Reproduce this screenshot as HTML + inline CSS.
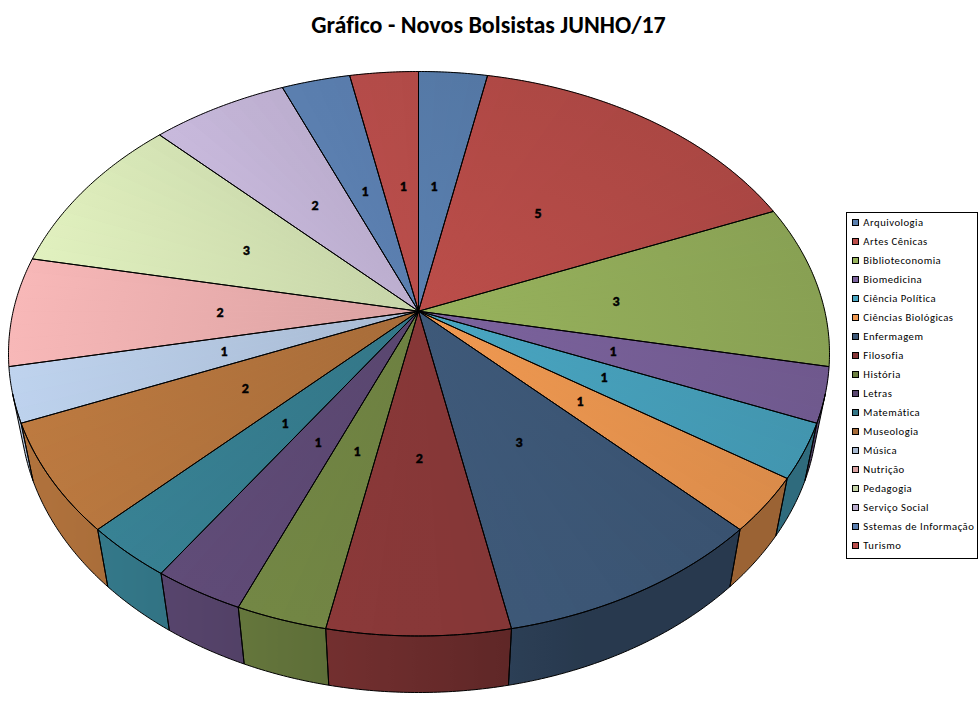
<!DOCTYPE html>
<html><head><meta charset="utf-8"><style>
html,body{margin:0;padding:0;background:#fff;}
body{width:980px;height:715px;position:relative;overflow:hidden;font-family:Carlito,"Liberation Sans",sans-serif;font-variant-ligatures:none;}
.title{position:absolute;left:-1.5px;width:980px;top:9.5px;text-align:center;font-weight:bold;font-size:24px;line-height:29px;color:#000;white-space:nowrap;}
.title span{display:inline-block;}
.pie{position:absolute;left:0;top:0;}
.lab text{font-family:Carlito,"Liberation Sans",sans-serif;font-weight:bold;font-size:14px;fill:#000;stroke:#000;stroke-width:0.45px;}
.leg{position:absolute;left:846px;top:212px;width:130px;height:345px;border:1px solid #000;background:#fff;}
.li{position:absolute;left:5px;height:12px;}
.li i{position:absolute;left:0;top:0;width:5px;height:5px;border:1px solid #000;}
.li span{position:absolute;left:11.3px;top:-3px;font-size:10.67px;letter-spacing:0.5px;line-height:14px;white-space:nowrap;color:#000;}
</style></head><body>
<div class="title"><span id="tt">Gráfico - Novos Bolsistas JUNHO/17</span></div>
<svg class="pie" width="980" height="715" viewBox="0 0 980 715">
<defs><linearGradient id="t0" gradientUnits="userSpaceOnUse" x1="418.50" y1="311.20" x2="421.97" y2="71.55"><stop offset="0" stop-color="#5A80B0"/><stop offset="1" stop-color="#5579A6"/></linearGradient><linearGradient id="t1" gradientUnits="userSpaceOnUse" x1="418.50" y1="311.20" x2="428.93" y2="71.45"><stop offset="0" stop-color="#5A80B0"/><stop offset="1" stop-color="#5578A5"/></linearGradient><linearGradient id="t2" gradientUnits="userSpaceOnUse" x1="418.50" y1="311.20" x2="435.94" y2="71.25"><stop offset="0" stop-color="#5A80B0"/><stop offset="1" stop-color="#5478A5"/></linearGradient><linearGradient id="t3" gradientUnits="userSpaceOnUse" x1="418.50" y1="311.20" x2="443.04" y2="70.96"><stop offset="0" stop-color="#5A80B0"/><stop offset="1" stop-color="#5477A4"/></linearGradient><linearGradient id="t4" gradientUnits="userSpaceOnUse" x1="418.50" y1="311.20" x2="450.27" y2="70.59"><stop offset="0" stop-color="#BC4E4A"/><stop offset="1" stop-color="#AF4845"/></linearGradient><linearGradient id="t5" gradientUnits="userSpaceOnUse" x1="418.50" y1="311.20" x2="457.66" y2="70.13"><stop offset="0" stop-color="#BC4E4A"/><stop offset="1" stop-color="#AE4844"/></linearGradient><linearGradient id="t6" gradientUnits="userSpaceOnUse" x1="418.50" y1="311.20" x2="465.25" y2="69.62"><stop offset="0" stop-color="#BC4E4A"/><stop offset="1" stop-color="#AD4844"/></linearGradient><linearGradient id="t7" gradientUnits="userSpaceOnUse" x1="418.50" y1="311.20" x2="473.09" y2="69.05"><stop offset="0" stop-color="#BC4E4A"/><stop offset="1" stop-color="#AD4844"/></linearGradient><linearGradient id="t8" gradientUnits="userSpaceOnUse" x1="418.50" y1="311.20" x2="481.20" y2="68.45"><stop offset="0" stop-color="#BC4E4A"/><stop offset="1" stop-color="#AD4844"/></linearGradient><linearGradient id="t9" gradientUnits="userSpaceOnUse" x1="418.50" y1="311.20" x2="489.64" y2="67.85"><stop offset="0" stop-color="#BC4E4A"/><stop offset="1" stop-color="#AC4744"/></linearGradient><linearGradient id="t10" gradientUnits="userSpaceOnUse" x1="418.50" y1="311.20" x2="498.45" y2="67.27"><stop offset="0" stop-color="#BC4E4A"/><stop offset="1" stop-color="#AC4744"/></linearGradient><linearGradient id="t11" gradientUnits="userSpaceOnUse" x1="418.50" y1="311.20" x2="507.67" y2="66.74"><stop offset="0" stop-color="#BC4E4A"/><stop offset="1" stop-color="#AC4744"/></linearGradient><linearGradient id="t12" gradientUnits="userSpaceOnUse" x1="418.50" y1="311.20" x2="517.35" y2="66.32"><stop offset="0" stop-color="#BC4E4A"/><stop offset="1" stop-color="#AB4743"/></linearGradient><linearGradient id="t13" gradientUnits="userSpaceOnUse" x1="418.50" y1="311.20" x2="527.54" y2="66.04"><stop offset="0" stop-color="#BC4E4A"/><stop offset="1" stop-color="#AB4743"/></linearGradient><linearGradient id="t14" gradientUnits="userSpaceOnUse" x1="418.50" y1="311.20" x2="538.27" y2="65.96"><stop offset="0" stop-color="#BC4E4A"/><stop offset="1" stop-color="#AB4743"/></linearGradient><linearGradient id="t15" gradientUnits="userSpaceOnUse" x1="418.50" y1="311.20" x2="549.60" y2="66.16"><stop offset="0" stop-color="#BC4E4A"/><stop offset="1" stop-color="#AB4743"/></linearGradient><linearGradient id="t16" gradientUnits="userSpaceOnUse" x1="418.50" y1="311.20" x2="561.56" y2="66.71"><stop offset="0" stop-color="#BC4E4A"/><stop offset="1" stop-color="#AB4743"/></linearGradient><linearGradient id="t17" gradientUnits="userSpaceOnUse" x1="418.50" y1="311.20" x2="574.20" y2="67.72"><stop offset="0" stop-color="#BC4E4A"/><stop offset="1" stop-color="#AB4743"/></linearGradient><linearGradient id="t18" gradientUnits="userSpaceOnUse" x1="418.50" y1="311.20" x2="587.55" y2="69.28"><stop offset="0" stop-color="#BC4E4A"/><stop offset="1" stop-color="#AA4743"/></linearGradient><linearGradient id="t19" gradientUnits="userSpaceOnUse" x1="418.50" y1="311.20" x2="601.63" y2="71.52"><stop offset="0" stop-color="#BC4E4A"/><stop offset="1" stop-color="#AA4743"/></linearGradient><linearGradient id="t20" gradientUnits="userSpaceOnUse" x1="418.50" y1="311.20" x2="616.44" y2="74.58"><stop offset="0" stop-color="#BC4E4A"/><stop offset="1" stop-color="#AA4743"/></linearGradient><linearGradient id="t21" gradientUnits="userSpaceOnUse" x1="418.50" y1="311.20" x2="631.98" y2="78.63"><stop offset="0" stop-color="#BC4E4A"/><stop offset="1" stop-color="#AA4643"/></linearGradient><linearGradient id="t22" gradientUnits="userSpaceOnUse" x1="418.50" y1="311.20" x2="648.20" y2="83.84"><stop offset="0" stop-color="#BC4E4A"/><stop offset="1" stop-color="#AA4643"/></linearGradient><linearGradient id="t23" gradientUnits="userSpaceOnUse" x1="418.50" y1="311.20" x2="665.06" y2="90.39"><stop offset="0" stop-color="#BC4E4A"/><stop offset="1" stop-color="#A94643"/></linearGradient><linearGradient id="t24" gradientUnits="userSpaceOnUse" x1="418.50" y1="311.20" x2="682.43" y2="98.49"><stop offset="0" stop-color="#98B35D"/><stop offset="1" stop-color="#89A154"/></linearGradient><linearGradient id="t25" gradientUnits="userSpaceOnUse" x1="418.50" y1="311.20" x2="700.18" y2="108.34"><stop offset="0" stop-color="#98B35D"/><stop offset="1" stop-color="#89A154"/></linearGradient><linearGradient id="t26" gradientUnits="userSpaceOnUse" x1="418.50" y1="311.20" x2="718.10" y2="120.13"><stop offset="0" stop-color="#98B35D"/><stop offset="1" stop-color="#88A154"/></linearGradient><linearGradient id="t27" gradientUnits="userSpaceOnUse" x1="418.50" y1="311.20" x2="735.95" y2="134.05"><stop offset="0" stop-color="#98B35D"/><stop offset="1" stop-color="#88A153"/></linearGradient><linearGradient id="t28" gradientUnits="userSpaceOnUse" x1="418.50" y1="311.20" x2="753.39" y2="150.24"><stop offset="0" stop-color="#98B35D"/><stop offset="1" stop-color="#88A053"/></linearGradient><linearGradient id="t29" gradientUnits="userSpaceOnUse" x1="418.50" y1="311.20" x2="770.07" y2="168.78"><stop offset="0" stop-color="#98B35D"/><stop offset="1" stop-color="#88A053"/></linearGradient><linearGradient id="t30" gradientUnits="userSpaceOnUse" x1="418.50" y1="311.20" x2="785.58" y2="189.70"><stop offset="0" stop-color="#98B35D"/><stop offset="1" stop-color="#88A053"/></linearGradient><linearGradient id="t31" gradientUnits="userSpaceOnUse" x1="418.50" y1="311.20" x2="799.46" y2="212.93"><stop offset="0" stop-color="#98B35D"/><stop offset="1" stop-color="#88A053"/></linearGradient><linearGradient id="t32" gradientUnits="userSpaceOnUse" x1="418.50" y1="311.20" x2="811.27" y2="238.29"><stop offset="0" stop-color="#98B35D"/><stop offset="1" stop-color="#88A053"/></linearGradient><linearGradient id="t33" gradientUnits="userSpaceOnUse" x1="418.50" y1="311.20" x2="820.59" y2="265.49"><stop offset="0" stop-color="#98B35D"/><stop offset="1" stop-color="#88A053"/></linearGradient><linearGradient id="t34" gradientUnits="userSpaceOnUse" x1="418.50" y1="311.20" x2="827.05" y2="294.15"><stop offset="0" stop-color="#98B35D"/><stop offset="1" stop-color="#88A053"/></linearGradient><linearGradient id="t35" gradientUnits="userSpaceOnUse" x1="418.50" y1="311.20" x2="830.37" y2="323.78"><stop offset="0" stop-color="#98B35D"/><stop offset="1" stop-color="#88A053"/></linearGradient><linearGradient id="t36" gradientUnits="userSpaceOnUse" x1="418.50" y1="311.20" x2="830.39" y2="353.83"><stop offset="0" stop-color="#7C639E"/><stop offset="1" stop-color="#6F588D"/></linearGradient><linearGradient id="t37" gradientUnits="userSpaceOnUse" x1="418.50" y1="311.20" x2="827.07" y2="383.74"><stop offset="0" stop-color="#7C639E"/><stop offset="1" stop-color="#6F598D"/></linearGradient><linearGradient id="t38" gradientUnits="userSpaceOnUse" x1="418.50" y1="311.20" x2="820.53" y2="412.94"><stop offset="0" stop-color="#7C639E"/><stop offset="1" stop-color="#6F598D"/></linearGradient><linearGradient id="t39" gradientUnits="userSpaceOnUse" x1="418.50" y1="311.20" x2="810.99" y2="440.91"><stop offset="0" stop-color="#7C639E"/><stop offset="1" stop-color="#6F598E"/></linearGradient><linearGradient id="w3" gradientUnits="userSpaceOnUse" x1="810.79" y1="0" x2="819.25" y2="0"><stop offset="0.0000" stop-color="#504066"/><stop offset="0.0526" stop-color="#504066"/><stop offset="0.1042" stop-color="#504066"/><stop offset="0.1549" stop-color="#504066"/><stop offset="0.2046" stop-color="#504066"/><stop offset="0.2534" stop-color="#504066"/><stop offset="0.3012" stop-color="#504066"/><stop offset="0.3481" stop-color="#504066"/><stop offset="0.3940" stop-color="#504066"/><stop offset="0.4390" stop-color="#504066"/><stop offset="0.4830" stop-color="#504066"/><stop offset="0.5260" stop-color="#504066"/><stop offset="0.5681" stop-color="#504066"/><stop offset="0.6093" stop-color="#504066"/><stop offset="0.6495" stop-color="#504066"/><stop offset="0.6888" stop-color="#504066"/><stop offset="0.7272" stop-color="#504066"/><stop offset="0.7646" stop-color="#504066"/><stop offset="0.8010" stop-color="#504066"/><stop offset="0.8365" stop-color="#504066"/><stop offset="0.8711" stop-color="#504066"/><stop offset="0.9047" stop-color="#504066"/><stop offset="0.9374" stop-color="#504066"/><stop offset="0.9692" stop-color="#504066"/><stop offset="1.0000" stop-color="#504066"/></linearGradient><linearGradient id="t40" gradientUnits="userSpaceOnUse" x1="418.50" y1="311.20" x2="798.77" y2="467.23"><stop offset="0" stop-color="#49A6C2"/><stop offset="1" stop-color="#4295AE"/></linearGradient><linearGradient id="t41" gradientUnits="userSpaceOnUse" x1="418.50" y1="311.20" x2="784.29" y2="491.57"><stop offset="0" stop-color="#49A6C2"/><stop offset="1" stop-color="#4295AF"/></linearGradient><linearGradient id="t42" gradientUnits="userSpaceOnUse" x1="418.50" y1="311.20" x2="767.97" y2="513.71"><stop offset="0" stop-color="#49A6C2"/><stop offset="1" stop-color="#4296AF"/></linearGradient><linearGradient id="t43" gradientUnits="userSpaceOnUse" x1="418.50" y1="311.20" x2="750.26" y2="533.53"><stop offset="0" stop-color="#49A6C2"/><stop offset="1" stop-color="#4296B0"/></linearGradient><linearGradient id="w4" gradientUnits="userSpaceOnUse" x1="781.43" y1="0" x2="810.79" y2="0"><stop offset="0.0000" stop-color="#2F6B7D"/><stop offset="0.0535" stop-color="#2F6B7D"/><stop offset="0.1059" stop-color="#2F6B7D"/><stop offset="0.1573" stop-color="#2F6B7D"/><stop offset="0.2077" stop-color="#2F6B7D"/><stop offset="0.2570" stop-color="#2F6B7D"/><stop offset="0.3054" stop-color="#2F6B7D"/><stop offset="0.3527" stop-color="#2F6B7D"/><stop offset="0.3990" stop-color="#2F6B7D"/><stop offset="0.4442" stop-color="#2F6B7D"/><stop offset="0.4885" stop-color="#2F6B7D"/><stop offset="0.5317" stop-color="#2F6B7D"/><stop offset="0.5738" stop-color="#2F6B7D"/><stop offset="0.6150" stop-color="#2F6B7D"/><stop offset="0.6551" stop-color="#2F6B7D"/><stop offset="0.6942" stop-color="#2F6B7D"/><stop offset="0.7323" stop-color="#2F6B7D"/><stop offset="0.7693" stop-color="#2F6B7D"/><stop offset="0.8053" stop-color="#2F6B7D"/><stop offset="0.8403" stop-color="#2F6B7D"/><stop offset="0.8743" stop-color="#2F6B7D"/><stop offset="0.9073" stop-color="#2F6B7D"/><stop offset="0.9392" stop-color="#2F6B7D"/><stop offset="0.9701" stop-color="#2F6B7D"/><stop offset="1.0000" stop-color="#2F6B7D"/></linearGradient><linearGradient id="t44" gradientUnits="userSpaceOnUse" x1="418.50" y1="311.20" x2="731.59" y2="551.03"><stop offset="0" stop-color="#F09951"/><stop offset="1" stop-color="#DA8B4A"/></linearGradient><linearGradient id="t45" gradientUnits="userSpaceOnUse" x1="418.50" y1="311.20" x2="712.32" y2="566.25"><stop offset="0" stop-color="#F09951"/><stop offset="1" stop-color="#DB8C4A"/></linearGradient><linearGradient id="t46" gradientUnits="userSpaceOnUse" x1="418.50" y1="311.20" x2="692.80" y2="579.33"><stop offset="0" stop-color="#F09951"/><stop offset="1" stop-color="#DC8C4A"/></linearGradient><linearGradient id="t47" gradientUnits="userSpaceOnUse" x1="418.50" y1="311.20" x2="673.29" y2="590.43"><stop offset="0" stop-color="#F09951"/><stop offset="1" stop-color="#DD8D4B"/></linearGradient><linearGradient id="w5" gradientUnits="userSpaceOnUse" x1="734.90" y1="0" x2="781.43" y2="0"><stop offset="0.0000" stop-color="#9B6334"/><stop offset="0.0488" stop-color="#9B6334"/><stop offset="0.0970" stop-color="#9B6334"/><stop offset="0.1446" stop-color="#9B6334"/><stop offset="0.1916" stop-color="#9B6334"/><stop offset="0.2380" stop-color="#9B6334"/><stop offset="0.2837" stop-color="#9B6334"/><stop offset="0.3289" stop-color="#9B6334"/><stop offset="0.3734" stop-color="#9B6334"/><stop offset="0.4173" stop-color="#9B6334"/><stop offset="0.4606" stop-color="#9B6334"/><stop offset="0.5032" stop-color="#9B6334"/><stop offset="0.5452" stop-color="#9B6334"/><stop offset="0.5866" stop-color="#9B6334"/><stop offset="0.6274" stop-color="#9B6334"/><stop offset="0.6675" stop-color="#9B6334"/><stop offset="0.7070" stop-color="#9B6334"/><stop offset="0.7459" stop-color="#9B6334"/><stop offset="0.7841" stop-color="#9B6334"/><stop offset="0.8217" stop-color="#9B6334"/><stop offset="0.8586" stop-color="#9B6334"/><stop offset="0.8949" stop-color="#9B6334"/><stop offset="0.9306" stop-color="#9B6334"/><stop offset="0.9656" stop-color="#9B6334"/><stop offset="1.0000" stop-color="#9B6334"/></linearGradient><linearGradient id="t48" gradientUnits="userSpaceOnUse" x1="418.50" y1="311.20" x2="654.00" y2="599.74"><stop offset="0" stop-color="#3E5979"/><stop offset="1" stop-color="#395270"/></linearGradient><linearGradient id="t49" gradientUnits="userSpaceOnUse" x1="418.50" y1="311.20" x2="635.11" y2="607.46"><stop offset="0" stop-color="#3E5979"/><stop offset="1" stop-color="#3A5371"/></linearGradient><linearGradient id="t50" gradientUnits="userSpaceOnUse" x1="418.50" y1="311.20" x2="616.72" y2="613.80"><stop offset="0" stop-color="#3E5979"/><stop offset="1" stop-color="#3A5371"/></linearGradient><linearGradient id="t51" gradientUnits="userSpaceOnUse" x1="418.50" y1="311.20" x2="598.90" y2="618.93"><stop offset="0" stop-color="#3E5979"/><stop offset="1" stop-color="#3A5472"/></linearGradient><linearGradient id="t52" gradientUnits="userSpaceOnUse" x1="418.50" y1="311.20" x2="581.69" y2="623.05"><stop offset="0" stop-color="#3E5979"/><stop offset="1" stop-color="#3B5472"/></linearGradient><linearGradient id="t53" gradientUnits="userSpaceOnUse" x1="418.50" y1="311.20" x2="565.09" y2="626.32"><stop offset="0" stop-color="#3E5979"/><stop offset="1" stop-color="#3B5573"/></linearGradient><linearGradient id="t54" gradientUnits="userSpaceOnUse" x1="418.50" y1="311.20" x2="549.11" y2="628.88"><stop offset="0" stop-color="#3E5979"/><stop offset="1" stop-color="#3B5574"/></linearGradient><linearGradient id="t55" gradientUnits="userSpaceOnUse" x1="418.50" y1="311.20" x2="533.69" y2="630.85"><stop offset="0" stop-color="#3E5979"/><stop offset="1" stop-color="#3C5675"/></linearGradient><linearGradient id="t56" gradientUnits="userSpaceOnUse" x1="418.50" y1="311.20" x2="518.82" y2="632.36"><stop offset="0" stop-color="#3E5979"/><stop offset="1" stop-color="#3C5675"/></linearGradient><linearGradient id="t57" gradientUnits="userSpaceOnUse" x1="418.50" y1="311.20" x2="504.43" y2="633.49"><stop offset="0" stop-color="#3E5979"/><stop offset="1" stop-color="#3C5776"/></linearGradient><linearGradient id="t58" gradientUnits="userSpaceOnUse" x1="418.50" y1="311.20" x2="490.47" y2="634.32"><stop offset="0" stop-color="#3E5979"/><stop offset="1" stop-color="#3D5777"/></linearGradient><linearGradient id="t59" gradientUnits="userSpaceOnUse" x1="418.50" y1="311.20" x2="476.88" y2="634.92"><stop offset="0" stop-color="#3E5979"/><stop offset="1" stop-color="#3D5877"/></linearGradient><linearGradient id="w6" gradientUnits="userSpaceOnUse" x1="509.95" y1="0" x2="734.90" y2="0"><stop offset="0.0000" stop-color="#2C3F56"/><stop offset="0.0496" stop-color="#2B3E54"/><stop offset="0.0988" stop-color="#2B3D53"/><stop offset="0.1476" stop-color="#2A3C52"/><stop offset="0.1959" stop-color="#293B51"/><stop offset="0.2436" stop-color="#293A50"/><stop offset="0.2907" stop-color="#283A4E"/><stop offset="0.3372" stop-color="#28394E"/><stop offset="0.3831" stop-color="#28394E"/><stop offset="0.4282" stop-color="#28394E"/><stop offset="0.4727" stop-color="#28394E"/><stop offset="0.5163" stop-color="#28394E"/><stop offset="0.5591" stop-color="#28394E"/><stop offset="0.6012" stop-color="#28394E"/><stop offset="0.6423" stop-color="#28394E"/><stop offset="0.6825" stop-color="#28394E"/><stop offset="0.7219" stop-color="#28394E"/><stop offset="0.7602" stop-color="#28394E"/><stop offset="0.7976" stop-color="#28394E"/><stop offset="0.8340" stop-color="#28394E"/><stop offset="0.8693" stop-color="#28394E"/><stop offset="0.9036" stop-color="#28394E"/><stop offset="0.9368" stop-color="#28394E"/><stop offset="0.9690" stop-color="#28394E"/><stop offset="1.0000" stop-color="#28394E"/></linearGradient><linearGradient id="t60" gradientUnits="userSpaceOnUse" x1="418.50" y1="311.20" x2="463.59" y2="635.34"><stop offset="0" stop-color="#863737"/><stop offset="1" stop-color="#853737"/></linearGradient><linearGradient id="t61" gradientUnits="userSpaceOnUse" x1="418.50" y1="311.20" x2="450.53" y2="635.62"><stop offset="0" stop-color="#863737"/><stop offset="1" stop-color="#863737"/></linearGradient><linearGradient id="t62" gradientUnits="userSpaceOnUse" x1="418.50" y1="311.20" x2="437.65" y2="635.79"><stop offset="0" stop-color="#863737"/><stop offset="1" stop-color="#873737"/></linearGradient><linearGradient id="t63" gradientUnits="userSpaceOnUse" x1="418.50" y1="311.20" x2="424.87" y2="635.87"><stop offset="0" stop-color="#863737"/><stop offset="1" stop-color="#883838"/></linearGradient><linearGradient id="t64" gradientUnits="userSpaceOnUse" x1="418.50" y1="311.20" x2="412.11" y2="635.87"><stop offset="0" stop-color="#863737"/><stop offset="1" stop-color="#883838"/></linearGradient><linearGradient id="t65" gradientUnits="userSpaceOnUse" x1="418.50" y1="311.20" x2="399.31" y2="635.79"><stop offset="0" stop-color="#863737"/><stop offset="1" stop-color="#893838"/></linearGradient><linearGradient id="t66" gradientUnits="userSpaceOnUse" x1="418.50" y1="311.20" x2="386.40" y2="635.61"><stop offset="0" stop-color="#863737"/><stop offset="1" stop-color="#8A3939"/></linearGradient><linearGradient id="t67" gradientUnits="userSpaceOnUse" x1="418.50" y1="311.20" x2="373.32" y2="635.32"><stop offset="0" stop-color="#863737"/><stop offset="1" stop-color="#8B3939"/></linearGradient><linearGradient id="w7" gradientUnits="userSpaceOnUse" x1="327.25" y1="0" x2="509.95" y2="0"><stop offset="0.0000" stop-color="#732F2F"/><stop offset="0.0409" stop-color="#722F2F"/><stop offset="0.0820" stop-color="#712F2F"/><stop offset="0.1233" stop-color="#712E2E"/><stop offset="0.1647" stop-color="#702E2E"/><stop offset="0.2062" stop-color="#6F2E2E"/><stop offset="0.2479" stop-color="#6E2D2D"/><stop offset="0.2897" stop-color="#6D2D2D"/><stop offset="0.3315" stop-color="#6D2D2D"/><stop offset="0.3734" stop-color="#6C2C2C"/><stop offset="0.4154" stop-color="#6B2C2C"/><stop offset="0.4574" stop-color="#6A2C2C"/><stop offset="0.4995" stop-color="#692B2B"/><stop offset="0.5416" stop-color="#682B2B"/><stop offset="0.5837" stop-color="#682A2A"/><stop offset="0.6258" stop-color="#672A2A"/><stop offset="0.6678" stop-color="#662A2A"/><stop offset="0.7097" stop-color="#652929"/><stop offset="0.7516" stop-color="#642929"/><stop offset="0.7933" stop-color="#632929"/><stop offset="0.8350" stop-color="#622828"/><stop offset="0.8765" stop-color="#612828"/><stop offset="0.9178" stop-color="#612828"/><stop offset="0.9590" stop-color="#602727"/><stop offset="1.0000" stop-color="#5F2727"/></linearGradient><linearGradient id="t68" gradientUnits="userSpaceOnUse" x1="418.50" y1="311.20" x2="360.01" y2="634.88"><stop offset="0" stop-color="#6D8041"/><stop offset="1" stop-color="#728544"/></linearGradient><linearGradient id="t69" gradientUnits="userSpaceOnUse" x1="418.50" y1="311.20" x2="346.39" y2="634.26"><stop offset="0" stop-color="#6D8041"/><stop offset="1" stop-color="#728644"/></linearGradient><linearGradient id="t70" gradientUnits="userSpaceOnUse" x1="418.50" y1="311.20" x2="332.41" y2="633.40"><stop offset="0" stop-color="#6D8041"/><stop offset="1" stop-color="#738744"/></linearGradient><linearGradient id="t71" gradientUnits="userSpaceOnUse" x1="418.50" y1="311.20" x2="318.00" y2="632.24"><stop offset="0" stop-color="#6D8041"/><stop offset="1" stop-color="#738745"/></linearGradient><linearGradient id="w8" gradientUnits="userSpaceOnUse" x1="241.26" y1="0" x2="327.25" y2="0"><stop offset="0.0000" stop-color="#64763C"/><stop offset="0.0397" stop-color="#64763C"/><stop offset="0.0796" stop-color="#64753C"/><stop offset="0.1197" stop-color="#64753B"/><stop offset="0.1600" stop-color="#63753B"/><stop offset="0.2005" stop-color="#63743B"/><stop offset="0.2411" stop-color="#63743B"/><stop offset="0.2819" stop-color="#63743B"/><stop offset="0.3230" stop-color="#62733B"/><stop offset="0.3642" stop-color="#62733A"/><stop offset="0.4055" stop-color="#62733A"/><stop offset="0.4470" stop-color="#61723A"/><stop offset="0.4887" stop-color="#61723A"/><stop offset="0.5306" stop-color="#61723A"/><stop offset="0.5725" stop-color="#61713A"/><stop offset="0.6147" stop-color="#607139"/><stop offset="0.6570" stop-color="#607139"/><stop offset="0.6994" stop-color="#607039"/><stop offset="0.7420" stop-color="#5F7039"/><stop offset="0.7847" stop-color="#5F7039"/><stop offset="0.8275" stop-color="#5F6F38"/><stop offset="0.8704" stop-color="#5E6F38"/><stop offset="0.9135" stop-color="#5E6F38"/><stop offset="0.9567" stop-color="#5E6E38"/><stop offset="1.0000" stop-color="#5D6E38"/></linearGradient><linearGradient id="t72" gradientUnits="userSpaceOnUse" x1="418.50" y1="311.20" x2="303.11" y2="630.69"><stop offset="0" stop-color="#59466F"/><stop offset="1" stop-color="#5F4A76"/></linearGradient><linearGradient id="t73" gradientUnits="userSpaceOnUse" x1="418.50" y1="311.20" x2="287.69" y2="628.68"><stop offset="0" stop-color="#59466F"/><stop offset="1" stop-color="#5F4B77"/></linearGradient><linearGradient id="t74" gradientUnits="userSpaceOnUse" x1="418.50" y1="311.20" x2="271.69" y2="626.08"><stop offset="0" stop-color="#59466F"/><stop offset="1" stop-color="#604B77"/></linearGradient><linearGradient id="t75" gradientUnits="userSpaceOnUse" x1="418.50" y1="311.20" x2="255.09" y2="622.76"><stop offset="0" stop-color="#59466F"/><stop offset="1" stop-color="#604C78"/></linearGradient><linearGradient id="w9" gradientUnits="userSpaceOnUse" x1="165.23" y1="0" x2="241.26" y2="0"><stop offset="0.0000" stop-color="#57446C"/><stop offset="0.0384" stop-color="#57446C"/><stop offset="0.0771" stop-color="#56446C"/><stop offset="0.1160" stop-color="#56446C"/><stop offset="0.1553" stop-color="#56446B"/><stop offset="0.1949" stop-color="#56446B"/><stop offset="0.2348" stop-color="#56436B"/><stop offset="0.2750" stop-color="#56436B"/><stop offset="0.3155" stop-color="#55436A"/><stop offset="0.3563" stop-color="#55436A"/><stop offset="0.3973" stop-color="#55436A"/><stop offset="0.4386" stop-color="#55436A"/><stop offset="0.4803" stop-color="#554369"/><stop offset="0.5221" stop-color="#544269"/><stop offset="0.5643" stop-color="#544269"/><stop offset="0.6067" stop-color="#544269"/><stop offset="0.6494" stop-color="#544268"/><stop offset="0.6924" stop-color="#544268"/><stop offset="0.7356" stop-color="#534268"/><stop offset="0.7790" stop-color="#534168"/><stop offset="0.8228" stop-color="#534167"/><stop offset="0.8667" stop-color="#534167"/><stop offset="0.9109" stop-color="#524167"/><stop offset="0.9553" stop-color="#524167"/><stop offset="1.0000" stop-color="#524166"/></linearGradient><linearGradient id="t76" gradientUnits="userSpaceOnUse" x1="418.50" y1="311.20" x2="237.89" y2="618.59"><stop offset="0" stop-color="#337687"/><stop offset="1" stop-color="#378092"/></linearGradient><linearGradient id="t77" gradientUnits="userSpaceOnUse" x1="418.50" y1="311.20" x2="220.08" y2="613.39"><stop offset="0" stop-color="#337687"/><stop offset="1" stop-color="#388093"/></linearGradient><linearGradient id="t78" gradientUnits="userSpaceOnUse" x1="418.50" y1="311.20" x2="201.71" y2="607.00"><stop offset="0" stop-color="#337687"/><stop offset="1" stop-color="#388194"/></linearGradient><linearGradient id="t79" gradientUnits="userSpaceOnUse" x1="418.50" y1="311.20" x2="182.85" y2="599.21"><stop offset="0" stop-color="#337687"/><stop offset="1" stop-color="#388294"/></linearGradient><linearGradient id="w10" gradientUnits="userSpaceOnUse" x1="102.81" y1="0" x2="165.23" y2="0"><stop offset="0.0000" stop-color="#347889"/><stop offset="0.0367" stop-color="#347889"/><stop offset="0.0739" stop-color="#347889"/><stop offset="0.1116" stop-color="#347789"/><stop offset="0.1496" stop-color="#347788"/><stop offset="0.1881" stop-color="#337788"/><stop offset="0.2271" stop-color="#337788"/><stop offset="0.2665" stop-color="#337788"/><stop offset="0.3063" stop-color="#337788"/><stop offset="0.3465" stop-color="#337687"/><stop offset="0.3872" stop-color="#337687"/><stop offset="0.4283" stop-color="#337687"/><stop offset="0.4698" stop-color="#337687"/><stop offset="0.5118" stop-color="#337686"/><stop offset="0.5541" stop-color="#337586"/><stop offset="0.5969" stop-color="#337586"/><stop offset="0.6401" stop-color="#337586"/><stop offset="0.6837" stop-color="#327586"/><stop offset="0.7277" stop-color="#327485"/><stop offset="0.7721" stop-color="#327485"/><stop offset="0.8169" stop-color="#327485"/><stop offset="0.8621" stop-color="#327485"/><stop offset="0.9077" stop-color="#327484"/><stop offset="0.9536" stop-color="#327384"/><stop offset="1.0000" stop-color="#327384"/></linearGradient><linearGradient id="t80" gradientUnits="userSpaceOnUse" x1="418.50" y1="311.20" x2="163.61" y2="589.84"><stop offset="0" stop-color="#A76C39"/><stop offset="1" stop-color="#B8773F"/></linearGradient><linearGradient id="t81" gradientUnits="userSpaceOnUse" x1="418.50" y1="311.20" x2="144.16" y2="578.68"><stop offset="0" stop-color="#A76C39"/><stop offset="1" stop-color="#B9783F"/></linearGradient><linearGradient id="t82" gradientUnits="userSpaceOnUse" x1="418.50" y1="311.20" x2="124.70" y2="565.55"><stop offset="0" stop-color="#A76C39"/><stop offset="1" stop-color="#BA783F"/></linearGradient><linearGradient id="t83" gradientUnits="userSpaceOnUse" x1="418.50" y1="311.20" x2="105.52" y2="550.28"><stop offset="0" stop-color="#A76C39"/><stop offset="1" stop-color="#BA7940"/></linearGradient><linearGradient id="t84" gradientUnits="userSpaceOnUse" x1="418.50" y1="311.20" x2="86.94" y2="532.75"><stop offset="0" stop-color="#A76C39"/><stop offset="1" stop-color="#BB7940"/></linearGradient><linearGradient id="t85" gradientUnits="userSpaceOnUse" x1="418.50" y1="311.20" x2="69.34" y2="512.92"><stop offset="0" stop-color="#A76C39"/><stop offset="1" stop-color="#BC7940"/></linearGradient><linearGradient id="t86" gradientUnits="userSpaceOnUse" x1="418.50" y1="311.20" x2="53.14" y2="490.78"><stop offset="0" stop-color="#A76C39"/><stop offset="1" stop-color="#BC7A40"/></linearGradient><linearGradient id="t87" gradientUnits="userSpaceOnUse" x1="418.50" y1="311.20" x2="38.78" y2="466.47"><stop offset="0" stop-color="#A76C39"/><stop offset="1" stop-color="#BD7A40"/></linearGradient><linearGradient id="w11" gradientUnits="userSpaceOnUse" x1="27.13" y1="0" x2="102.81" y2="0"><stop offset="0.0000" stop-color="#B0723C"/><stop offset="0.0235" stop-color="#B0723C"/><stop offset="0.0486" stop-color="#B0723C"/><stop offset="0.0753" stop-color="#B0723C"/><stop offset="0.1035" stop-color="#B0723C"/><stop offset="0.1334" stop-color="#B0723C"/><stop offset="0.1648" stop-color="#AF713C"/><stop offset="0.1978" stop-color="#AF713C"/><stop offset="0.2325" stop-color="#AF713C"/><stop offset="0.2687" stop-color="#AF713C"/><stop offset="0.3065" stop-color="#AF713C"/><stop offset="0.3458" stop-color="#AE713C"/><stop offset="0.3868" stop-color="#AE713B"/><stop offset="0.4294" stop-color="#AE703B"/><stop offset="0.4735" stop-color="#AE703B"/><stop offset="0.5192" stop-color="#AD703B"/><stop offset="0.5664" stop-color="#AD703B"/><stop offset="0.6153" stop-color="#AD703B"/><stop offset="0.6656" stop-color="#AC6F3B"/><stop offset="0.7176" stop-color="#AC6F3B"/><stop offset="0.7710" stop-color="#AC6F3B"/><stop offset="0.8260" stop-color="#AB6F3A"/><stop offset="0.8825" stop-color="#AB6E3A"/><stop offset="0.9405" stop-color="#AA6E3A"/><stop offset="1.0000" stop-color="#AA6E3A"/></linearGradient><linearGradient id="t88" gradientUnits="userSpaceOnUse" x1="418.50" y1="311.20" x2="26.68" y2="440.20"><stop offset="0" stop-color="#A7B9D1"/><stop offset="1" stop-color="#BDD2ED"/></linearGradient><linearGradient id="t89" gradientUnits="userSpaceOnUse" x1="418.50" y1="311.20" x2="17.25" y2="412.30"><stop offset="0" stop-color="#A7B9D1"/><stop offset="1" stop-color="#BED2EE"/></linearGradient><linearGradient id="t90" gradientUnits="userSpaceOnUse" x1="418.50" y1="311.20" x2="10.80" y2="383.21"><stop offset="0" stop-color="#A7B9D1"/><stop offset="1" stop-color="#BED3EE"/></linearGradient><linearGradient id="t91" gradientUnits="userSpaceOnUse" x1="418.50" y1="311.20" x2="7.56" y2="353.42"><stop offset="0" stop-color="#A7B9D1"/><stop offset="1" stop-color="#BFD3EE"/></linearGradient><linearGradient id="w12" gradientUnits="userSpaceOnUse" x1="18.71" y1="0" x2="27.13" y2="0"><stop offset="0.0000" stop-color="#B0C3DC"/><stop offset="0.0308" stop-color="#B0C3DC"/><stop offset="0.0625" stop-color="#B0C3DC"/><stop offset="0.0952" stop-color="#B0C3DC"/><stop offset="0.1288" stop-color="#B0C3DC"/><stop offset="0.1634" stop-color="#B0C3DC"/><stop offset="0.1989" stop-color="#B0C3DC"/><stop offset="0.2353" stop-color="#B0C3DC"/><stop offset="0.2727" stop-color="#B0C3DC"/><stop offset="0.3110" stop-color="#B0C3DC"/><stop offset="0.3503" stop-color="#B0C3DC"/><stop offset="0.3905" stop-color="#B0C3DC"/><stop offset="0.4317" stop-color="#B0C3DC"/><stop offset="0.4738" stop-color="#B0C3DC"/><stop offset="0.5169" stop-color="#B0C3DC"/><stop offset="0.5609" stop-color="#B0C3DC"/><stop offset="0.6059" stop-color="#B0C3DC"/><stop offset="0.6518" stop-color="#B0C3DC"/><stop offset="0.6987" stop-color="#B0C3DC"/><stop offset="0.7465" stop-color="#B0C3DC"/><stop offset="0.7953" stop-color="#B0C3DC"/><stop offset="0.8450" stop-color="#B0C3DC"/><stop offset="0.8957" stop-color="#B0C3DC"/><stop offset="0.9474" stop-color="#B0C3DC"/><stop offset="1.0000" stop-color="#B0C3DC"/></linearGradient><linearGradient id="t92" gradientUnits="userSpaceOnUse" x1="418.50" y1="311.20" x2="7.63" y2="323.50"><stop offset="0" stop-color="#D9A1A1"/><stop offset="1" stop-color="#F8B8B8"/></linearGradient><linearGradient id="t93" gradientUnits="userSpaceOnUse" x1="418.50" y1="311.20" x2="10.97" y2="294.02"><stop offset="0" stop-color="#D9A1A1"/><stop offset="1" stop-color="#F8B8B8"/></linearGradient><linearGradient id="t94" gradientUnits="userSpaceOnUse" x1="418.50" y1="311.20" x2="17.42" y2="265.50"><stop offset="0" stop-color="#D9A1A1"/><stop offset="1" stop-color="#F8B8B8"/></linearGradient><linearGradient id="t95" gradientUnits="userSpaceOnUse" x1="418.50" y1="311.20" x2="26.70" y2="238.44"><stop offset="0" stop-color="#D9A1A1"/><stop offset="1" stop-color="#F8B8B8"/></linearGradient><linearGradient id="t96" gradientUnits="userSpaceOnUse" x1="418.50" y1="311.20" x2="38.46" y2="213.20"><stop offset="0" stop-color="#D9A1A1"/><stop offset="1" stop-color="#F8B8B8"/></linearGradient><linearGradient id="t97" gradientUnits="userSpaceOnUse" x1="418.50" y1="311.20" x2="52.27" y2="190.08"><stop offset="0" stop-color="#D9A1A1"/><stop offset="1" stop-color="#F8B8B8"/></linearGradient><linearGradient id="t98" gradientUnits="userSpaceOnUse" x1="418.50" y1="311.20" x2="67.68" y2="169.25"><stop offset="0" stop-color="#D9A1A1"/><stop offset="1" stop-color="#F8B8B8"/></linearGradient><linearGradient id="t99" gradientUnits="userSpaceOnUse" x1="418.50" y1="311.20" x2="84.26" y2="150.77"><stop offset="0" stop-color="#D9A1A1"/><stop offset="1" stop-color="#F7B7B7"/></linearGradient><linearGradient id="t100" gradientUnits="userSpaceOnUse" x1="418.50" y1="311.20" x2="101.60" y2="134.63"><stop offset="0" stop-color="#C6D4A8"/><stop offset="1" stop-color="#E1F1BF"/></linearGradient><linearGradient id="t101" gradientUnits="userSpaceOnUse" x1="418.50" y1="311.20" x2="119.34" y2="120.74"><stop offset="0" stop-color="#C6D4A8"/><stop offset="1" stop-color="#E0F0BE"/></linearGradient><linearGradient id="t102" gradientUnits="userSpaceOnUse" x1="418.50" y1="311.20" x2="137.16" y2="108.96"><stop offset="0" stop-color="#C6D4A8"/><stop offset="1" stop-color="#E0EFBE"/></linearGradient><linearGradient id="t103" gradientUnits="userSpaceOnUse" x1="418.50" y1="311.20" x2="154.82" y2="99.10"><stop offset="0" stop-color="#C6D4A8"/><stop offset="1" stop-color="#DFEFBD"/></linearGradient><linearGradient id="t104" gradientUnits="userSpaceOnUse" x1="418.50" y1="311.20" x2="172.11" y2="90.99"><stop offset="0" stop-color="#C6D4A8"/><stop offset="1" stop-color="#DEEDBC"/></linearGradient><linearGradient id="t105" gradientUnits="userSpaceOnUse" x1="418.50" y1="311.20" x2="188.89" y2="84.41"><stop offset="0" stop-color="#C6D4A8"/><stop offset="1" stop-color="#DDECBB"/></linearGradient><linearGradient id="t106" gradientUnits="userSpaceOnUse" x1="418.50" y1="311.20" x2="205.05" y2="79.17"><stop offset="0" stop-color="#C6D4A8"/><stop offset="1" stop-color="#DCEBBA"/></linearGradient><linearGradient id="t107" gradientUnits="userSpaceOnUse" x1="418.50" y1="311.20" x2="220.54" y2="75.09"><stop offset="0" stop-color="#C6D4A8"/><stop offset="1" stop-color="#DAEAB9"/></linearGradient><linearGradient id="t108" gradientUnits="userSpaceOnUse" x1="418.50" y1="311.20" x2="235.30" y2="71.98"><stop offset="0" stop-color="#C6D4A8"/><stop offset="1" stop-color="#D9E8B8"/></linearGradient><linearGradient id="t109" gradientUnits="userSpaceOnUse" x1="418.50" y1="311.20" x2="249.34" y2="69.70"><stop offset="0" stop-color="#C6D4A8"/><stop offset="1" stop-color="#D7E7B7"/></linearGradient><linearGradient id="t110" gradientUnits="userSpaceOnUse" x1="418.50" y1="311.20" x2="262.66" y2="68.10"><stop offset="0" stop-color="#C6D4A8"/><stop offset="1" stop-color="#D6E5B6"/></linearGradient><linearGradient id="t111" gradientUnits="userSpaceOnUse" x1="418.50" y1="311.20" x2="275.28" y2="67.05"><stop offset="0" stop-color="#C6D4A8"/><stop offset="1" stop-color="#D4E3B4"/></linearGradient><linearGradient id="t112" gradientUnits="userSpaceOnUse" x1="418.50" y1="311.20" x2="287.23" y2="66.46"><stop offset="0" stop-color="#BCAECF"/><stop offset="1" stop-color="#C8B9DC"/></linearGradient><linearGradient id="t113" gradientUnits="userSpaceOnUse" x1="418.50" y1="311.20" x2="298.55" y2="66.22"><stop offset="0" stop-color="#BCAECF"/><stop offset="1" stop-color="#C7B8DB"/></linearGradient><linearGradient id="t114" gradientUnits="userSpaceOnUse" x1="418.50" y1="311.20" x2="309.28" y2="66.26"><stop offset="0" stop-color="#BCAECF"/><stop offset="1" stop-color="#C5B6D9"/></linearGradient><linearGradient id="t115" gradientUnits="userSpaceOnUse" x1="418.50" y1="311.20" x2="319.46" y2="66.51"><stop offset="0" stop-color="#BCAECF"/><stop offset="1" stop-color="#C3B5D7"/></linearGradient><linearGradient id="t116" gradientUnits="userSpaceOnUse" x1="418.50" y1="311.20" x2="329.15" y2="66.90"><stop offset="0" stop-color="#BCAECF"/><stop offset="1" stop-color="#C2B3D5"/></linearGradient><linearGradient id="t117" gradientUnits="userSpaceOnUse" x1="418.50" y1="311.20" x2="338.38" y2="67.40"><stop offset="0" stop-color="#BCAECF"/><stop offset="1" stop-color="#C0B2D3"/></linearGradient><linearGradient id="t118" gradientUnits="userSpaceOnUse" x1="418.50" y1="311.20" x2="347.19" y2="67.96"><stop offset="0" stop-color="#BCAECF"/><stop offset="1" stop-color="#BFB0D2"/></linearGradient><linearGradient id="t119" gradientUnits="userSpaceOnUse" x1="418.50" y1="311.20" x2="355.65" y2="68.54"><stop offset="0" stop-color="#BCAECF"/><stop offset="1" stop-color="#BDAFD0"/></linearGradient><linearGradient id="t120" gradientUnits="userSpaceOnUse" x1="418.50" y1="311.20" x2="363.78" y2="69.12"><stop offset="0" stop-color="#5B7FB0"/><stop offset="1" stop-color="#5B7FAF"/></linearGradient><linearGradient id="t121" gradientUnits="userSpaceOnUse" x1="418.50" y1="311.20" x2="371.63" y2="69.67"><stop offset="0" stop-color="#5B7FB0"/><stop offset="1" stop-color="#5A7EAE"/></linearGradient><linearGradient id="t122" gradientUnits="userSpaceOnUse" x1="418.50" y1="311.20" x2="379.24" y2="70.17"><stop offset="0" stop-color="#5B7FB0"/><stop offset="1" stop-color="#597DAD"/></linearGradient><linearGradient id="t123" gradientUnits="userSpaceOnUse" x1="418.50" y1="311.20" x2="386.65" y2="70.61"><stop offset="0" stop-color="#5B7FB0"/><stop offset="1" stop-color="#597CAC"/></linearGradient><linearGradient id="t124" gradientUnits="userSpaceOnUse" x1="418.50" y1="311.20" x2="393.89" y2="70.98"><stop offset="0" stop-color="#BA4E4B"/><stop offset="1" stop-color="#B44B49"/></linearGradient><linearGradient id="t125" gradientUnits="userSpaceOnUse" x1="418.50" y1="311.20" x2="401.01" y2="71.26"><stop offset="0" stop-color="#BA4E4B"/><stop offset="1" stop-color="#B34B48"/></linearGradient><linearGradient id="t126" gradientUnits="userSpaceOnUse" x1="418.50" y1="311.20" x2="408.04" y2="71.45"><stop offset="0" stop-color="#BA4E4B"/><stop offset="1" stop-color="#B24B48"/></linearGradient><linearGradient id="t127" gradientUnits="userSpaceOnUse" x1="418.50" y1="311.20" x2="415.02" y2="71.55"><stop offset="0" stop-color="#BA4E4B"/><stop offset="1" stop-color="#B14A47"/></linearGradient></defs>
<g><path d="M825.33,393.80 L824.80,396.25 L824.24,398.71 L823.64,401.17 L823.02,403.62 L822.36,406.08 L821.67,408.53 L820.94,410.98 L820.19,413.43 L819.40,415.88 L818.58,418.33 L817.72,420.78 L816.83,423.22 L804.93,480.68 L805.80,478.23 L806.65,475.79 L807.46,473.35 L808.24,470.90 L808.99,468.45 L809.70,466.00 L810.39,463.55 L811.04,461.09 L811.66,458.64 L812.26,456.19 L812.82,453.73 L813.34,451.28 Z" fill="url(#w3)"/><path d="M816.83,423.22 L815.91,425.67 L814.95,428.12 L813.97,430.56 L812.94,433.00 L811.89,435.43 L810.80,437.87 L809.67,440.30 L808.52,442.72 L807.33,445.14 L806.11,447.56 L804.85,449.97 L803.56,452.38 L802.24,454.78 L800.88,457.18 L799.49,459.57 L798.07,461.95 L796.61,464.33 L795.13,466.70 L793.60,469.06 L792.05,471.42 L790.46,473.77 L788.83,476.12 L787.18,478.45 L775.85,535.79 L777.47,533.47 L779.06,531.13 L780.61,528.78 L782.13,526.43 L783.62,524.07 L785.08,521.71 L786.50,519.33 L787.90,516.96 L789.26,514.57 L790.59,512.18 L791.88,509.78 L793.15,507.38 L794.38,504.98 L795.58,502.56 L796.75,500.15 L797.88,497.73 L798.98,495.30 L800.06,492.87 L801.09,490.44 L802.10,488.00 L803.07,485.56 L804.02,483.12 L804.93,480.68 Z" fill="url(#w4)"/><path d="M787.18,478.45 L785.56,480.69 L783.91,482.91 L782.23,485.13 L780.52,487.33 L778.78,489.53 L777.01,491.73 L775.21,493.91 L773.38,496.09 L771.52,498.25 L769.63,500.41 L767.70,502.56 L765.75,504.69 L763.77,506.82 L761.76,508.94 L759.72,511.05 L757.65,513.14 L755.55,515.23 L753.42,517.31 L751.27,519.37 L749.08,521.42 L746.86,523.46 L744.62,525.49 L742.34,527.51 L740.04,529.52 L729.92,586.67 L732.16,584.67 L734.37,582.66 L736.56,580.64 L738.71,578.61 L740.84,576.57 L742.94,574.51 L745.01,572.44 L747.06,570.36 L749.07,568.28 L751.06,566.18 L753.02,564.07 L754.95,561.95 L756.85,559.82 L758.72,557.68 L760.57,555.53 L762.38,553.37 L764.17,551.20 L765.93,549.03 L767.65,546.84 L769.35,544.65 L771.02,542.45 L772.66,540.24 L774.27,538.02 L775.85,535.79 Z" fill="url(#w5)"/><path d="M740.04,529.52 L737.68,531.54 L735.28,533.55 L732.86,535.54 L730.41,537.52 L727.93,539.49 L725.42,541.44 L722.88,543.38 L720.31,545.31 L717.72,547.22 L715.10,549.11 L712.45,550.99 L709.77,552.86 L707.06,554.71 L704.33,556.54 L701.57,558.36 L698.78,560.16 L695.97,561.95 L693.13,563.72 L690.26,565.47 L687.37,567.20 L684.45,568.92 L681.51,570.62 L678.54,572.30 L675.54,573.97 L672.52,575.62 L669.48,577.25 L666.41,578.86 L663.31,580.45 L660.20,582.02 L657.06,583.57 L653.89,585.11 L650.70,586.62 L647.49,588.12 L644.26,589.59 L641.00,591.05 L637.72,592.48 L634.42,593.90 L631.10,595.29 L627.76,596.66 L624.40,598.02 L621.01,599.35 L617.61,600.66 L614.18,601.95 L610.74,603.21 L607.27,604.46 L603.79,605.68 L600.29,606.88 L596.77,608.06 L593.23,609.21 L589.67,610.35 L586.10,611.46 L582.51,612.55 L578.90,613.61 L575.28,614.65 L571.64,615.67 L567.98,616.66 L564.31,617.63 L560.62,618.58 L556.92,619.50 L553.21,620.40 L549.48,621.28 L545.74,622.13 L541.98,622.96 L538.21,623.76 L534.43,624.54 L530.64,625.29 L526.83,626.02 L523.02,626.72 L519.19,627.40 L515.35,628.05 L511.50,628.68 L508.44,685.23 L512.16,684.61 L515.87,683.96 L519.57,683.29 L523.27,682.59 L526.95,681.87 L530.62,681.12 L534.27,680.35 L537.92,679.55 L541.55,678.73 L545.18,677.89 L548.78,677.02 L552.38,676.13 L555.96,675.21 L559.53,674.27 L563.08,673.31 L566.62,672.32 L570.14,671.31 L573.65,670.28 L577.14,669.22 L580.62,668.14 L584.08,667.04 L587.52,665.91 L590.95,664.76 L594.36,663.59 L597.75,662.40 L601.12,661.19 L604.47,659.95 L607.81,658.69 L611.13,657.41 L614.43,656.11 L617.70,654.79 L620.96,653.44 L624.20,652.08 L627.42,650.70 L630.62,649.29 L633.79,647.86 L636.95,646.42 L640.08,644.95 L643.20,643.47 L646.29,641.96 L649.35,640.44 L652.40,638.89 L655.42,637.33 L658.42,635.75 L661.40,634.15 L664.35,632.53 L667.28,630.89 L670.19,629.24 L673.07,627.56 L675.92,625.87 L678.75,624.16 L681.56,622.44 L684.34,620.70 L687.10,618.94 L689.83,617.16 L692.54,615.37 L695.22,613.56 L697.87,611.74 L700.50,609.90 L703.10,608.04 L705.67,606.17 L708.22,604.28 L710.74,602.38 L713.24,600.47 L715.70,598.54 L718.14,596.59 L720.55,594.64 L722.94,592.66 L725.29,590.68 L727.62,588.68 L729.92,586.67 Z" fill="url(#w6)"/><path d="M511.50,628.68 L507.70,629.27 L503.89,629.84 L500.07,630.38 L496.24,630.90 L492.40,631.40 L488.55,631.87 L484.70,632.31 L480.84,632.73 L476.98,633.13 L473.11,633.50 L469.23,633.84 L465.35,634.16 L461.46,634.45 L457.57,634.72 L453.67,634.96 L449.77,635.18 L445.87,635.37 L441.97,635.54 L438.06,635.68 L434.15,635.80 L430.24,635.88 L426.33,635.95 L422.41,635.99 L418.50,636.00 L414.59,635.99 L410.69,635.95 L406.79,635.88 L402.88,635.80 L398.98,635.68 L395.08,635.54 L391.19,635.37 L387.29,635.18 L383.40,634.96 L379.51,634.72 L375.63,634.45 L371.75,634.16 L367.88,633.84 L364.01,633.50 L360.15,633.13 L356.29,632.73 L352.44,632.31 L348.59,631.87 L344.76,631.40 L340.93,630.90 L337.11,630.38 L333.29,629.84 L329.49,629.27 L325.69,628.68 L328.76,685.23 L332.43,685.82 L336.11,686.39 L339.80,686.93 L343.49,687.44 L347.19,687.93 L350.91,688.40 L354.62,688.84 L358.35,689.26 L362.08,689.65 L365.81,690.02 L369.55,690.36 L373.30,690.67 L377.05,690.97 L380.81,691.23 L384.56,691.47 L388.33,691.69 L392.09,691.88 L395.86,692.04 L399.63,692.18 L403.40,692.30 L407.17,692.39 L410.95,692.45 L414.72,692.49 L418.50,692.50 L422.28,692.49 L426.07,692.45 L429.85,692.39 L433.63,692.30 L437.41,692.18 L441.19,692.04 L444.97,691.88 L448.74,691.69 L452.51,691.47 L456.28,691.23 L460.04,690.97 L463.80,690.67 L467.55,690.36 L471.30,690.02 L475.05,689.65 L478.78,689.26 L482.52,688.84 L486.24,688.40 L489.96,687.93 L493.67,687.44 L497.38,686.93 L501.07,686.39 L504.76,685.82 L508.44,685.23 Z" fill="url(#w7)"/><path d="M325.69,628.68 L321.74,628.03 L317.80,627.36 L313.87,626.66 L309.96,625.93 L306.05,625.18 L302.16,624.40 L298.28,623.60 L294.41,622.77 L290.56,621.91 L286.72,621.03 L282.89,620.12 L279.08,619.19 L275.29,618.23 L271.51,617.24 L267.75,616.23 L264.00,615.20 L260.27,614.14 L256.56,613.06 L252.86,611.95 L249.19,610.82 L245.53,609.66 L241.89,608.48 L238.27,607.28 L244.16,663.99 L247.67,665.18 L251.19,666.35 L254.73,667.50 L258.29,668.63 L261.87,669.73 L265.46,670.80 L269.07,671.85 L272.70,672.88 L276.34,673.88 L280.00,674.86 L283.67,675.81 L287.35,676.74 L291.05,677.64 L294.77,678.52 L298.50,679.37 L302.24,680.19 L305.99,680.99 L309.76,681.76 L313.54,682.51 L317.32,683.23 L321.12,683.92 L324.94,684.59 L328.76,685.23 Z" fill="url(#w8)"/><path d="M238.27,607.28 L234.66,606.05 L231.08,604.80 L227.52,603.52 L223.98,602.22 L220.46,600.90 L216.96,599.56 L213.48,598.19 L210.03,596.80 L206.59,595.39 L203.18,593.96 L199.79,592.50 L196.43,591.03 L193.08,589.53 L189.76,588.01 L186.47,586.47 L183.20,584.91 L179.95,583.33 L176.73,581.72 L173.54,580.10 L170.37,578.46 L167.22,576.80 L164.10,575.12 L161.01,573.42 L169.30,630.34 L172.30,632.03 L175.33,633.70 L178.38,635.36 L181.45,636.99 L184.55,638.60 L187.67,640.19 L190.82,641.76 L193.99,643.31 L197.18,644.85 L200.40,646.36 L203.64,647.84 L206.90,649.31 L210.18,650.76 L213.48,652.18 L216.81,653.58 L220.16,654.96 L223.53,656.32 L226.92,657.65 L230.33,658.97 L233.76,660.26 L237.21,661.52 L240.67,662.77 L244.16,663.99 Z" fill="url(#w9)"/><path d="M161.01,573.42 L158.07,571.77 L155.16,570.10 L152.27,568.42 L149.41,566.72 L146.57,565.01 L143.75,563.28 L140.97,561.53 L138.20,559.76 L135.47,557.98 L132.76,556.19 L130.07,554.38 L127.42,552.55 L124.79,550.71 L122.18,548.85 L119.61,546.98 L117.06,545.09 L114.54,543.19 L112.04,541.28 L109.58,539.35 L107.14,537.41 L104.73,535.46 L102.34,533.49 L99.99,531.51 L97.67,529.52 L107.79,586.67 L110.05,588.65 L112.34,590.62 L114.65,592.58 L117.00,594.53 L119.37,596.46 L121.76,598.38 L124.19,600.28 L126.64,602.17 L129.11,604.05 L131.62,605.91 L134.15,607.76 L136.70,609.59 L139.28,611.41 L141.89,613.21 L144.52,614.99 L147.17,616.76 L149.85,618.52 L152.56,620.26 L155.29,621.98 L158.05,623.69 L160.82,625.38 L163.63,627.05 L166.45,628.70 L169.30,630.34 Z" fill="url(#w10)"/><path d="M97.67,529.52 L95.32,527.47 L93.00,525.41 L90.72,523.33 L88.46,521.25 L86.24,519.15 L84.04,517.04 L81.88,514.92 L79.75,512.79 L77.64,510.64 L75.57,508.49 L73.53,506.32 L71.52,504.15 L69.54,501.96 L67.59,499.77 L65.68,497.56 L63.79,495.35 L61.94,493.12 L60.11,490.89 L58.32,488.65 L56.56,486.40 L54.84,484.14 L53.14,481.87 L51.48,479.59 L49.84,477.31 L48.24,475.02 L46.67,472.72 L45.14,470.42 L43.63,468.11 L42.16,465.79 L40.72,463.47 L39.31,461.14 L37.93,458.80 L36.58,456.46 L35.27,454.12 L33.99,451.76 L32.74,449.41 L31.52,447.05 L30.33,444.68 L29.18,442.31 L28.06,439.94 L26.97,437.56 L25.91,435.18 L24.88,432.79 L23.88,430.40 L22.92,428.01 L21.99,425.62 L21.09,423.22 L33.00,480.68 L33.88,483.07 L34.80,485.46 L35.75,487.85 L36.73,490.23 L37.74,492.61 L38.78,494.99 L39.85,497.37 L40.95,499.74 L42.09,502.10 L43.25,504.46 L44.45,506.82 L45.67,509.17 L46.93,511.52 L48.21,513.86 L49.53,516.20 L50.88,518.53 L52.26,520.85 L53.67,523.17 L55.11,525.48 L56.59,527.78 L58.09,530.08 L59.62,532.37 L61.19,534.66 L62.78,536.93 L64.41,539.20 L66.06,541.46 L67.75,543.71 L69.47,545.96 L71.21,548.19 L72.99,550.42 L74.80,552.63 L76.64,554.84 L78.51,557.04 L80.41,559.23 L82.34,561.40 L84.29,563.57 L86.28,565.73 L88.30,567.87 L90.35,570.01 L92.43,572.13 L94.53,574.25 L96.67,576.35 L98.83,578.44 L101.03,580.51 L103.25,582.58 L105.51,584.63 L107.79,586.67 Z" fill="url(#w11)"/><path d="M21.09,423.22 L20.21,420.78 L19.36,418.33 L18.54,415.88 L17.75,413.43 L17.00,410.98 L16.28,408.53 L15.59,406.08 L14.93,403.62 L14.31,401.17 L13.72,398.71 L13.16,396.25 L12.63,393.80 L24.61,451.28 L25.14,453.73 L25.70,456.19 L26.29,458.64 L26.91,461.09 L27.56,463.55 L28.24,466.00 L28.95,468.45 L29.70,470.90 L30.48,473.35 L31.29,475.79 L32.13,478.23 L33.00,480.68 Z" fill="url(#w12)"/></g>
<g><path d="M418.50,311.20 L418.50,71.50 L421.39,71.51 L424.28,71.53 L427.17,71.56 L430.06,71.61 L432.94,71.67 L435.83,71.75 L438.72,71.84 L441.60,71.95 L444.49,72.06 L447.37,72.20 L450.25,72.34 L453.14,72.50 L456.02,72.68 L458.89,72.87 L461.77,73.07 L464.65,73.28 L467.52,73.51 L470.39,73.76 L473.26,74.02 L476.13,74.29 L478.99,74.57 L481.85,74.87 L484.71,75.19 L487.57,75.51 Z" fill="#577BA9"/><path d="M418.50,311.20 L418.50,71.50 L435.83,71.75 Z" fill="url(#t0)" stroke="url(#t0)" stroke-width="0.5"/><path d="M418.50,311.20 L435.83,71.75 L453.14,72.50 Z" fill="url(#t1)" stroke="url(#t1)" stroke-width="0.5"/><path d="M418.50,311.20 L453.14,72.50 L470.39,73.76 Z" fill="url(#t2)" stroke="url(#t2)" stroke-width="0.5"/><path d="M418.50,311.20 L470.39,73.76 L487.57,75.51 Z" fill="url(#t3)" stroke="url(#t3)" stroke-width="0.5"/><path d="M418.50,311.20 L487.57,75.51 L490.42,75.85 L493.27,76.21 L496.12,76.58 L498.97,76.96 L501.81,77.36 L504.65,77.77 L507.48,78.19 L510.31,78.63 L513.14,79.08 L515.96,79.55 L518.78,80.03 L521.59,80.52 L524.40,81.03 L527.21,81.55 L530.01,82.08 L532.81,82.63 L535.60,83.19 L538.39,83.77 L541.17,84.36 L543.95,84.96 L546.72,85.58 L549.49,86.21 L552.25,86.86 L555.00,87.52 L557.75,88.19 L560.50,88.87 L563.23,89.57 L565.97,90.29 L568.69,91.01 L571.41,91.75 L574.12,92.51 L576.83,93.28 L579.53,94.06 L582.22,94.85 L584.91,95.66 L587.58,96.48 L590.25,97.32 L592.92,98.17 L595.57,99.03 L598.22,99.91 L600.86,100.79 L603.50,101.70 L606.12,102.61 L608.74,103.54 L611.35,104.49 L613.95,105.44 L616.54,106.41 L619.12,107.40 L621.69,108.39 L624.26,109.40 L626.82,110.43 L629.36,111.46 L631.90,112.51 L634.43,113.58 L636.95,114.65 L639.46,115.74 L641.95,116.84 L644.44,117.96 L646.92,119.09 L649.39,120.23 L651.85,121.39 L654.30,122.55 L656.73,123.73 L659.16,124.93 L661.57,126.14 L663.98,127.35 L666.37,128.59 L668.75,129.83 L671.12,131.09 L673.48,132.36 L675.83,133.65 L678.16,134.94 L680.48,136.25 L682.79,137.58 L685.09,138.91 L687.38,140.26 L689.65,141.62 L691.91,142.99 L694.16,144.37 L696.39,145.77 L698.62,147.18 L700.82,148.60 L703.02,150.04 L705.20,151.49 L707.37,152.95 L709.52,154.42 L711.66,155.90 L713.78,157.40 L715.89,158.90 L717.99,160.43 L720.07,161.96 L722.14,163.50 L724.19,165.06 L726.23,166.63 L728.25,168.21 L730.26,169.80 L732.25,171.40 L734.22,173.02 L736.18,174.64 L738.13,176.28 L740.05,177.93 L741.97,179.59 L743.86,181.27 L745.74,182.95 L747.60,184.64 L749.45,186.35 L751.28,188.07 L753.09,189.80 L754.88,191.54 L756.66,193.29 L758.42,195.05 L760.16,196.83 L761.88,198.61 L763.59,200.41 L765.27,202.21 L766.94,204.03 L768.59,205.86 L770.22,207.69 L771.84,209.54 L773.43,211.40 Z" fill="#B24A46"/><path d="M418.50,311.20 L487.57,75.51 L504.65,77.77 Z" fill="url(#t4)" stroke="url(#t4)" stroke-width="0.5"/><path d="M418.50,311.20 L504.65,77.77 L521.59,80.52 Z" fill="url(#t5)" stroke="url(#t5)" stroke-width="0.5"/><path d="M418.50,311.20 L521.59,80.52 L538.39,83.77 Z" fill="url(#t6)" stroke="url(#t6)" stroke-width="0.5"/><path d="M418.50,311.20 L538.39,83.77 L555.00,87.52 Z" fill="url(#t7)" stroke="url(#t7)" stroke-width="0.5"/><path d="M418.50,311.20 L555.00,87.52 L571.41,91.75 Z" fill="url(#t8)" stroke="url(#t8)" stroke-width="0.5"/><path d="M418.50,311.20 L571.41,91.75 L587.58,96.48 Z" fill="url(#t9)" stroke="url(#t9)" stroke-width="0.5"/><path d="M418.50,311.20 L587.58,96.48 L603.50,101.70 Z" fill="url(#t10)" stroke="url(#t10)" stroke-width="0.5"/><path d="M418.50,311.20 L603.50,101.70 L619.12,107.40 Z" fill="url(#t11)" stroke="url(#t11)" stroke-width="0.5"/><path d="M418.50,311.20 L619.12,107.40 L634.43,113.58 Z" fill="url(#t12)" stroke="url(#t12)" stroke-width="0.5"/><path d="M418.50,311.20 L634.43,113.58 L649.39,120.23 Z" fill="url(#t13)" stroke="url(#t13)" stroke-width="0.5"/><path d="M418.50,311.20 L649.39,120.23 L663.98,127.35 Z" fill="url(#t14)" stroke="url(#t14)" stroke-width="0.5"/><path d="M418.50,311.20 L663.98,127.35 L678.16,134.94 Z" fill="url(#t15)" stroke="url(#t15)" stroke-width="0.5"/><path d="M418.50,311.20 L678.16,134.94 L691.91,142.99 Z" fill="url(#t16)" stroke="url(#t16)" stroke-width="0.5"/><path d="M418.50,311.20 L691.91,142.99 L705.20,151.49 Z" fill="url(#t17)" stroke="url(#t17)" stroke-width="0.5"/><path d="M418.50,311.20 L705.20,151.49 L717.99,160.43 Z" fill="url(#t18)" stroke="url(#t18)" stroke-width="0.5"/><path d="M418.50,311.20 L717.99,160.43 L730.26,169.80 Z" fill="url(#t19)" stroke="url(#t19)" stroke-width="0.5"/><path d="M418.50,311.20 L730.26,169.80 L741.97,179.59 Z" fill="url(#t20)" stroke="url(#t20)" stroke-width="0.5"/><path d="M418.50,311.20 L741.97,179.59 L753.09,189.80 Z" fill="url(#t21)" stroke="url(#t21)" stroke-width="0.5"/><path d="M418.50,311.20 L753.09,189.80 L763.59,200.41 Z" fill="url(#t22)" stroke="url(#t22)" stroke-width="0.5"/><path d="M418.50,311.20 L763.59,200.41 L773.43,211.40 Z" fill="url(#t23)" stroke="url(#t23)" stroke-width="0.5"/><path d="M418.50,311.20 L773.43,211.40 L775.01,213.27 L776.56,215.15 L778.10,217.04 L779.62,218.94 L781.11,220.85 L782.59,222.77 L784.05,224.69 L785.49,226.63 L786.90,228.58 L788.30,230.54 L789.68,232.51 L791.03,234.49 L792.37,236.47 L793.68,238.47 L794.97,240.47 L796.24,242.49 L797.49,244.51 L798.72,246.55 L799.93,248.59 L801.11,250.64 L802.28,252.70 L803.42,254.76 L804.53,256.84 L805.63,258.92 L806.70,261.02 L807.75,263.12 L808.78,265.23 L809.79,267.34 L810.77,269.47 L811.72,271.60 L812.66,273.74 L813.57,275.89 L814.46,278.05 L815.32,280.21 L816.16,282.38 L816.97,284.56 L817.76,286.74 L818.53,288.93 L819.27,291.13 L819.99,293.34 L820.68,295.55 L821.34,297.76 L821.98,299.99 L822.60,302.22 L823.19,304.46 L823.76,306.70 L824.30,308.95 L824.81,311.20 L825.30,313.46 L825.76,315.72 L826.19,317.99 L826.60,320.27 L826.98,322.55 L827.34,324.84 L827.67,327.13 L827.97,329.42 L828.25,331.72 L828.49,334.02 L828.72,336.33 L828.91,338.64 L829.08,340.96 L829.21,343.28 L829.33,345.60 L829.41,347.93 L829.46,350.26 L829.49,352.59 L829.49,354.92 L829.46,357.26 L829.40,359.60 L829.32,361.95 L829.20,364.30 L829.06,366.64 Z" fill="#8EA857"/><path d="M418.50,311.20 L773.43,211.40 L782.59,222.77 Z" fill="url(#t24)" stroke="url(#t24)" stroke-width="0.5"/><path d="M418.50,311.20 L782.59,222.77 L791.03,234.49 Z" fill="url(#t25)" stroke="url(#t25)" stroke-width="0.5"/><path d="M418.50,311.20 L791.03,234.49 L798.72,246.55 Z" fill="url(#t26)" stroke="url(#t26)" stroke-width="0.5"/><path d="M418.50,311.20 L798.72,246.55 L805.63,258.92 Z" fill="url(#t27)" stroke="url(#t27)" stroke-width="0.5"/><path d="M418.50,311.20 L805.63,258.92 L811.72,271.60 Z" fill="url(#t28)" stroke="url(#t28)" stroke-width="0.5"/><path d="M418.50,311.20 L811.72,271.60 L816.97,284.56 Z" fill="url(#t29)" stroke="url(#t29)" stroke-width="0.5"/><path d="M418.50,311.20 L816.97,284.56 L821.34,297.76 Z" fill="url(#t30)" stroke="url(#t30)" stroke-width="0.5"/><path d="M418.50,311.20 L821.34,297.76 L824.81,311.20 Z" fill="url(#t31)" stroke="url(#t31)" stroke-width="0.5"/><path d="M418.50,311.20 L824.81,311.20 L827.34,324.84 Z" fill="url(#t32)" stroke="url(#t32)" stroke-width="0.5"/><path d="M418.50,311.20 L827.34,324.84 L828.91,338.64 Z" fill="url(#t33)" stroke="url(#t33)" stroke-width="0.5"/><path d="M418.50,311.20 L828.91,338.64 L829.49,352.59 Z" fill="url(#t34)" stroke="url(#t34)" stroke-width="0.5"/><path d="M418.50,311.20 L829.49,352.59 L829.06,366.64 Z" fill="url(#t35)" stroke="url(#t35)" stroke-width="0.5"/><path d="M418.50,311.20 L829.06,366.64 L828.89,368.99 L828.69,371.35 L828.46,373.70 L828.20,376.06 L827.92,378.41 L827.60,380.77 L827.25,383.13 L826.88,385.49 L826.47,387.85 L826.04,390.21 L825.58,392.57 L825.08,394.94 L824.56,397.30 L824.01,399.66 L823.43,402.02 L822.82,404.38 L822.17,406.74 L821.50,409.10 L820.80,411.46 L820.07,413.81 L819.30,416.17 L818.51,418.52 L817.69,420.87 L816.83,423.22 Z" fill="#745D94"/><path d="M418.50,311.20 L829.06,366.64 L827.60,380.77 Z" fill="url(#t36)" stroke="url(#t36)" stroke-width="0.5"/><path d="M418.50,311.20 L827.60,380.77 L825.08,394.94 Z" fill="url(#t37)" stroke="url(#t37)" stroke-width="0.5"/><path d="M418.50,311.20 L825.08,394.94 L821.50,409.10 Z" fill="url(#t38)" stroke="url(#t38)" stroke-width="0.5"/><path d="M418.50,311.20 L821.50,409.10 L816.83,423.22 Z" fill="url(#t39)" stroke="url(#t39)" stroke-width="0.5"/><path d="M418.50,311.20 L816.83,423.22 L815.95,425.57 L815.04,427.91 L814.09,430.25 L813.12,432.59 L812.11,434.93 L811.07,437.26 L810.01,439.59 L808.91,441.91 L807.78,444.24 L806.62,446.55 L805.43,448.87 L804.21,451.18 L802.96,453.48 L801.68,455.78 L800.37,458.07 L799.02,460.36 L797.65,462.64 L796.25,464.92 L794.81,467.19 L793.34,469.46 L791.85,471.72 L790.32,473.97 L788.76,476.22 L787.18,478.45 Z" fill="#459CB7"/><path d="M418.50,311.20 L816.83,423.22 L811.07,437.26 Z" fill="url(#t40)" stroke="url(#t40)" stroke-width="0.5"/><path d="M418.50,311.20 L811.07,437.26 L804.21,451.18 Z" fill="url(#t41)" stroke="url(#t41)" stroke-width="0.5"/><path d="M418.50,311.20 L804.21,451.18 L796.25,464.92 Z" fill="url(#t42)" stroke="url(#t42)" stroke-width="0.5"/><path d="M418.50,311.20 L796.25,464.92 L787.18,478.45 Z" fill="url(#t43)" stroke="url(#t43)" stroke-width="0.5"/><path d="M418.50,311.20 L787.18,478.45 L785.56,480.69 L783.91,482.91 L782.23,485.13 L780.52,487.33 L778.78,489.53 L777.01,491.73 L775.21,493.91 L773.38,496.09 L771.52,498.25 L769.63,500.41 L767.70,502.56 L765.75,504.69 L763.77,506.82 L761.76,508.94 L759.72,511.05 L757.65,513.14 L755.55,515.23 L753.42,517.31 L751.27,519.37 L749.08,521.42 L746.86,523.46 L744.62,525.49 L742.34,527.51 L740.04,529.52 Z" fill="#E4914D"/><path d="M418.50,311.20 L787.18,478.45 L777.01,491.73 Z" fill="url(#t44)" stroke="url(#t44)" stroke-width="0.5"/><path d="M418.50,311.20 L777.01,491.73 L765.75,504.69 Z" fill="url(#t45)" stroke="url(#t45)" stroke-width="0.5"/><path d="M418.50,311.20 L765.75,504.69 L753.42,517.31 Z" fill="url(#t46)" stroke="url(#t46)" stroke-width="0.5"/><path d="M418.50,311.20 L753.42,517.31 L740.04,529.52 Z" fill="url(#t47)" stroke="url(#t47)" stroke-width="0.5"/><path d="M418.50,311.20 L740.04,529.52 L737.71,531.51 L735.35,533.49 L732.96,535.46 L730.55,537.41 L728.10,539.35 L725.63,541.28 L723.13,543.19 L720.60,545.09 L718.05,546.98 L715.46,548.85 L712.85,550.71 L710.22,552.55 L707.55,554.38 L704.86,556.19 L702.15,557.98 L699.40,559.76 L696.64,561.53 L693.84,563.28 L691.02,565.01 L688.18,566.72 L685.30,568.42 L682.41,570.10 L679.49,571.77 L676.54,573.42 L673.57,575.05 L670.58,576.66 L667.56,578.25 L664.52,579.83 L661.46,581.39 L658.37,582.93 L655.26,584.45 L652.12,585.95 L648.97,587.43 L645.79,588.90 L642.59,590.34 L639.37,591.77 L636.12,593.17 L632.86,594.56 L629.57,595.92 L626.27,597.27 L622.94,598.59 L619.60,599.90 L616.23,601.18 L612.84,602.44 L609.44,603.68 L606.02,604.90 L602.58,606.10 L599.12,607.28 L595.64,608.43 L592.14,609.56 L588.63,610.67 L585.10,611.76 L581.56,612.83 L578.00,613.87 L574.42,614.89 L570.83,615.89 L567.22,616.87 L563.59,617.82 L559.96,618.75 L556.30,619.66 L552.64,620.54 L548.96,621.40 L545.27,622.23 L541.56,623.05 L537.84,623.83 L534.11,624.60 L530.37,625.34 L526.62,626.06 L522.86,626.75 L519.08,627.41 L515.30,628.06 L511.50,628.68 Z" fill="#3C5776"/><path d="M418.50,311.20 L740.04,529.52 L725.63,541.28 Z" fill="url(#t48)" stroke="url(#t48)" stroke-width="0.5"/><path d="M418.50,311.20 L725.63,541.28 L710.22,552.55 Z" fill="url(#t49)" stroke="url(#t49)" stroke-width="0.5"/><path d="M418.50,311.20 L710.22,552.55 L693.84,563.28 Z" fill="url(#t50)" stroke="url(#t50)" stroke-width="0.5"/><path d="M418.50,311.20 L693.84,563.28 L676.54,573.42 Z" fill="url(#t51)" stroke="url(#t51)" stroke-width="0.5"/><path d="M418.50,311.20 L676.54,573.42 L658.37,582.93 Z" fill="url(#t52)" stroke="url(#t52)" stroke-width="0.5"/><path d="M418.50,311.20 L658.37,582.93 L639.37,591.77 Z" fill="url(#t53)" stroke="url(#t53)" stroke-width="0.5"/><path d="M418.50,311.20 L639.37,591.77 L619.60,599.90 Z" fill="url(#t54)" stroke="url(#t54)" stroke-width="0.5"/><path d="M418.50,311.20 L619.60,599.90 L599.12,607.28 Z" fill="url(#t55)" stroke="url(#t55)" stroke-width="0.5"/><path d="M418.50,311.20 L599.12,607.28 L578.00,613.87 Z" fill="url(#t56)" stroke="url(#t56)" stroke-width="0.5"/><path d="M418.50,311.20 L578.00,613.87 L556.30,619.66 Z" fill="url(#t57)" stroke="url(#t57)" stroke-width="0.5"/><path d="M418.50,311.20 L556.30,619.66 L534.11,624.60 Z" fill="url(#t58)" stroke="url(#t58)" stroke-width="0.5"/><path d="M418.50,311.20 L534.11,624.60 L511.50,628.68 Z" fill="url(#t59)" stroke="url(#t59)" stroke-width="0.5"/><path d="M418.50,311.20 L511.50,628.68 L507.70,629.27 L503.89,629.84 L500.07,630.38 L496.24,630.90 L492.40,631.40 L488.55,631.87 L484.70,632.31 L480.84,632.73 L476.98,633.13 L473.11,633.50 L469.23,633.84 L465.35,634.16 L461.46,634.45 L457.57,634.72 L453.67,634.96 L449.77,635.18 L445.87,635.37 L441.97,635.54 L438.06,635.68 L434.15,635.80 L430.24,635.88 L426.33,635.95 L422.41,635.99 L418.50,636.00 L414.59,635.99 L410.69,635.95 L406.79,635.88 L402.88,635.80 L398.98,635.68 L395.08,635.54 L391.19,635.37 L387.29,635.18 L383.40,634.96 L379.51,634.72 L375.63,634.45 L371.75,634.16 L367.88,633.84 L364.01,633.50 L360.15,633.13 L356.29,632.73 L352.44,632.31 L348.59,631.87 L344.76,631.40 L340.93,630.90 L337.11,630.38 L333.29,629.84 L329.49,629.27 L325.69,628.68 Z" fill="#873737"/><path d="M418.50,311.20 L511.50,628.68 L488.55,631.87 Z" fill="url(#t60)" stroke="url(#t60)" stroke-width="0.5"/><path d="M418.50,311.20 L488.55,631.87 L465.35,634.16 Z" fill="url(#t61)" stroke="url(#t61)" stroke-width="0.5"/><path d="M418.50,311.20 L465.35,634.16 L441.97,635.54 Z" fill="url(#t62)" stroke="url(#t62)" stroke-width="0.5"/><path d="M418.50,311.20 L441.97,635.54 L418.50,636.00 Z" fill="url(#t63)" stroke="url(#t63)" stroke-width="0.5"/><path d="M418.50,311.20 L418.50,636.00 L395.08,635.54 Z" fill="url(#t64)" stroke="url(#t64)" stroke-width="0.5"/><path d="M418.50,311.20 L395.08,635.54 L371.75,634.16 Z" fill="url(#t65)" stroke="url(#t65)" stroke-width="0.5"/><path d="M418.50,311.20 L371.75,634.16 L348.59,631.87 Z" fill="url(#t66)" stroke="url(#t66)" stroke-width="0.5"/><path d="M418.50,311.20 L348.59,631.87 L325.69,628.68 Z" fill="url(#t67)" stroke="url(#t67)" stroke-width="0.5"/><path d="M418.50,311.20 L325.69,628.68 L321.91,628.06 L318.13,627.41 L314.36,626.75 L310.61,626.06 L306.86,625.34 L303.13,624.60 L299.41,623.83 L295.70,623.05 L292.00,622.23 L288.32,621.40 L284.64,620.54 L280.99,619.66 L277.34,618.75 L273.71,617.82 L270.10,616.87 L266.50,615.89 L262.91,614.89 L259.34,613.87 L255.79,612.83 L252.25,611.76 L248.73,610.67 L245.22,609.56 L241.74,608.43 L238.27,607.28 Z" fill="#708443"/><path d="M418.50,311.20 L325.69,628.68 L303.13,624.60 Z" fill="url(#t68)" stroke="url(#t68)" stroke-width="0.5"/><path d="M418.50,311.20 L303.13,624.60 L280.99,619.66 Z" fill="url(#t69)" stroke="url(#t69)" stroke-width="0.5"/><path d="M418.50,311.20 L280.99,619.66 L259.34,613.87 Z" fill="url(#t70)" stroke="url(#t70)" stroke-width="0.5"/><path d="M418.50,311.20 L259.34,613.87 L238.27,607.28 Z" fill="url(#t71)" stroke="url(#t71)" stroke-width="0.5"/><path d="M418.50,311.20 L238.27,607.28 L234.81,606.10 L231.38,604.90 L227.96,603.68 L224.57,602.44 L221.19,601.18 L217.83,599.90 L214.49,598.59 L211.18,597.27 L207.88,595.92 L204.60,594.56 L201.34,593.17 L198.11,591.77 L194.89,590.34 L191.70,588.90 L188.53,587.43 L185.38,585.95 L182.25,584.45 L179.15,582.93 L176.07,581.39 L173.01,579.83 L169.97,578.25 L166.96,576.66 L163.98,575.05 L161.01,573.42 Z" fill="#5D4974"/><path d="M418.50,311.20 L238.27,607.28 L217.83,599.90 Z" fill="url(#t72)" stroke="url(#t72)" stroke-width="0.5"/><path d="M418.50,311.20 L217.83,599.90 L198.11,591.77 Z" fill="url(#t73)" stroke="url(#t73)" stroke-width="0.5"/><path d="M418.50,311.20 L198.11,591.77 L179.15,582.93 Z" fill="url(#t74)" stroke="url(#t74)" stroke-width="0.5"/><path d="M418.50,311.20 L179.15,582.93 L161.01,573.42 Z" fill="url(#t75)" stroke="url(#t75)" stroke-width="0.5"/><path d="M418.50,311.20 L161.01,573.42 L158.07,571.77 L155.16,570.10 L152.27,568.42 L149.41,566.72 L146.57,565.01 L143.75,563.28 L140.97,561.53 L138.20,559.76 L135.47,557.98 L132.76,556.19 L130.07,554.38 L127.42,552.55 L124.79,550.71 L122.18,548.85 L119.61,546.98 L117.06,545.09 L114.54,543.19 L112.04,541.28 L109.58,539.35 L107.14,537.41 L104.73,535.46 L102.34,533.49 L99.99,531.51 L97.67,529.52 Z" fill="#367C8E"/><path d="M418.50,311.20 L161.01,573.42 L143.75,563.28 Z" fill="url(#t76)" stroke="url(#t76)" stroke-width="0.5"/><path d="M418.50,311.20 L143.75,563.28 L127.42,552.55 Z" fill="url(#t77)" stroke="url(#t77)" stroke-width="0.5"/><path d="M418.50,311.20 L127.42,552.55 L112.04,541.28 Z" fill="url(#t78)" stroke="url(#t78)" stroke-width="0.5"/><path d="M418.50,311.20 L112.04,541.28 L97.67,529.52 Z" fill="url(#t79)" stroke="url(#t79)" stroke-width="0.5"/><path d="M418.50,311.20 L97.67,529.52 L95.37,527.51 L93.10,525.49 L90.86,523.46 L88.65,521.42 L86.47,519.37 L84.32,517.31 L82.19,515.23 L80.10,513.14 L78.03,511.05 L76.00,508.94 L73.99,506.82 L72.02,504.69 L70.07,502.56 L68.16,500.41 L66.27,498.25 L64.42,496.09 L62.59,493.91 L60.79,491.73 L59.03,489.53 L57.29,487.33 L55.59,485.13 L53.91,482.91 L52.27,480.69 L50.65,478.45 L49.07,476.22 L47.52,473.97 L46.00,471.72 L44.50,469.46 L43.04,467.19 L41.61,464.92 L40.21,462.64 L38.84,460.36 L37.50,458.07 L36.20,455.78 L34.92,453.48 L33.67,451.18 L32.45,448.87 L31.27,446.55 L30.11,444.24 L28.99,441.91 L27.89,439.59 L26.83,437.26 L25.80,434.93 L24.80,432.59 L23.82,430.25 L22.88,427.91 L21.97,425.57 L21.09,423.22 Z" fill="#B3743D"/><path d="M418.50,311.20 L97.67,529.52 L84.32,517.31 Z" fill="url(#t80)" stroke="url(#t80)" stroke-width="0.5"/><path d="M418.50,311.20 L84.32,517.31 L72.02,504.69 Z" fill="url(#t81)" stroke="url(#t81)" stroke-width="0.5"/><path d="M418.50,311.20 L72.02,504.69 L60.79,491.73 Z" fill="url(#t82)" stroke="url(#t82)" stroke-width="0.5"/><path d="M418.50,311.20 L60.79,491.73 L50.65,478.45 Z" fill="url(#t83)" stroke="url(#t83)" stroke-width="0.5"/><path d="M418.50,311.20 L50.65,478.45 L41.61,464.92 Z" fill="url(#t84)" stroke="url(#t84)" stroke-width="0.5"/><path d="M418.50,311.20 L41.61,464.92 L33.67,451.18 Z" fill="url(#t85)" stroke="url(#t85)" stroke-width="0.5"/><path d="M418.50,311.20 L33.67,451.18 L26.83,437.26 Z" fill="url(#t86)" stroke="url(#t86)" stroke-width="0.5"/><path d="M418.50,311.20 L26.83,437.26 L21.09,423.22 Z" fill="url(#t87)" stroke="url(#t87)" stroke-width="0.5"/><path d="M418.50,311.20 L21.09,423.22 L20.24,420.87 L19.42,418.52 L18.63,416.17 L17.87,413.81 L17.14,411.46 L16.44,409.10 L15.77,406.74 L15.13,404.38 L14.52,402.02 L13.94,399.66 L13.39,397.30 L12.87,394.94 L12.38,392.57 L11.92,390.21 L11.49,387.85 L11.09,385.49 L10.71,383.13 L10.37,380.77 L10.06,378.41 L9.77,376.06 L9.51,373.70 L9.29,371.35 L9.09,368.99 L8.92,366.64 Z" fill="#B5C8E2"/><path d="M418.50,311.20 L21.09,423.22 L16.44,409.10 Z" fill="url(#t88)" stroke="url(#t88)" stroke-width="0.5"/><path d="M418.50,311.20 L16.44,409.10 L12.87,394.94 Z" fill="url(#t89)" stroke="url(#t89)" stroke-width="0.5"/><path d="M418.50,311.20 L12.87,394.94 L10.37,380.77 Z" fill="url(#t90)" stroke="url(#t90)" stroke-width="0.5"/><path d="M418.50,311.20 L10.37,380.77 L8.92,366.64 Z" fill="url(#t91)" stroke="url(#t91)" stroke-width="0.5"/><path d="M418.50,311.20 L8.92,366.64 L8.78,364.30 L8.67,361.95 L8.58,359.60 L8.53,357.26 L8.50,354.92 L8.50,352.59 L8.53,350.26 L8.58,347.93 L8.67,345.60 L8.78,343.28 L8.92,340.96 L9.09,338.64 L9.28,336.33 L9.50,334.02 L9.75,331.72 L10.03,329.42 L10.33,327.13 L10.66,324.84 L11.02,322.55 L11.40,320.27 L11.81,317.99 L12.24,315.72 L12.70,313.46 L13.19,311.20 L13.70,308.95 L14.24,306.70 L14.81,304.46 L15.40,302.22 L16.01,299.99 L16.66,297.76 L17.32,295.55 L18.01,293.34 L18.73,291.13 L19.47,288.93 L20.23,286.74 L21.02,284.56 L21.84,282.38 L22.68,280.21 L23.54,278.05 L24.42,275.89 L25.33,273.74 L26.27,271.60 L27.22,269.47 L28.20,267.34 L29.20,265.23 L30.23,263.12 L31.28,261.02 L32.35,258.92 Z" fill="#ECAFAF"/><path d="M418.50,311.20 L8.92,366.64 L8.50,352.59 Z" fill="url(#t92)" stroke="url(#t92)" stroke-width="0.5"/><path d="M418.50,311.20 L8.50,352.59 L9.09,338.64 Z" fill="url(#t93)" stroke="url(#t93)" stroke-width="0.5"/><path d="M418.50,311.20 L9.09,338.64 L10.66,324.84 Z" fill="url(#t94)" stroke="url(#t94)" stroke-width="0.5"/><path d="M418.50,311.20 L10.66,324.84 L13.19,311.20 Z" fill="url(#t95)" stroke="url(#t95)" stroke-width="0.5"/><path d="M418.50,311.20 L13.19,311.20 L16.66,297.76 Z" fill="url(#t96)" stroke="url(#t96)" stroke-width="0.5"/><path d="M418.50,311.20 L16.66,297.76 L21.02,284.56 Z" fill="url(#t97)" stroke="url(#t97)" stroke-width="0.5"/><path d="M418.50,311.20 L21.02,284.56 L26.27,271.60 Z" fill="url(#t98)" stroke="url(#t98)" stroke-width="0.5"/><path d="M418.50,311.20 L26.27,271.60 L32.35,258.92 Z" fill="url(#t99)" stroke="url(#t99)" stroke-width="0.5"/><path d="M418.50,311.20 L32.35,258.92 L33.44,256.84 L34.56,254.76 L35.70,252.70 L36.86,250.64 L38.04,248.59 L39.25,246.55 L40.47,244.51 L41.72,242.49 L42.99,240.47 L44.28,238.47 L45.59,236.47 L46.93,234.49 L48.28,232.51 L49.65,230.54 L51.05,228.58 L52.46,226.63 L53.90,224.69 L55.35,222.77 L56.83,220.85 L58.32,218.94 L59.83,217.04 L61.37,215.15 L62.92,213.27 L64.49,211.40 L66.08,209.54 L67.69,207.69 L69.32,205.86 L70.97,204.03 L72.64,202.21 L74.32,200.41 L76.02,198.61 L77.74,196.83 L79.48,195.05 L81.23,193.29 L83.01,191.54 L84.80,189.80 L86.60,188.07 L88.43,186.35 L90.27,184.64 L92.13,182.95 L94.00,181.27 L95.89,179.59 L97.80,177.93 L99.72,176.28 L101.66,174.64 L103.62,173.02 L105.59,171.40 L107.57,169.80 L109.58,168.21 L111.59,166.63 L113.63,165.06 L115.67,163.50 L117.74,161.96 L119.81,160.43 L121.90,158.90 L124.01,157.40 L126.13,155.90 L128.26,154.42 L130.41,152.95 L132.57,151.49 L134.75,150.04 L136.94,148.60 L139.14,147.18 L141.36,145.77 L143.59,144.37 L145.83,142.99 L148.08,141.62 L150.35,140.26 L152.63,138.91 L154.92,137.58 L157.23,136.25 L159.55,134.94 Z" fill="#D3E2B3"/><path d="M418.50,311.20 L32.35,258.92 L39.25,246.55 Z" fill="url(#t100)" stroke="url(#t100)" stroke-width="0.5"/><path d="M418.50,311.20 L39.25,246.55 L46.93,234.49 Z" fill="url(#t101)" stroke="url(#t101)" stroke-width="0.5"/><path d="M418.50,311.20 L46.93,234.49 L55.35,222.77 Z" fill="url(#t102)" stroke="url(#t102)" stroke-width="0.5"/><path d="M418.50,311.20 L55.35,222.77 L64.49,211.40 Z" fill="url(#t103)" stroke="url(#t103)" stroke-width="0.5"/><path d="M418.50,311.20 L64.49,211.40 L74.32,200.41 Z" fill="url(#t104)" stroke="url(#t104)" stroke-width="0.5"/><path d="M418.50,311.20 L74.32,200.41 L84.80,189.80 Z" fill="url(#t105)" stroke="url(#t105)" stroke-width="0.5"/><path d="M418.50,311.20 L84.80,189.80 L95.89,179.59 Z" fill="url(#t106)" stroke="url(#t106)" stroke-width="0.5"/><path d="M418.50,311.20 L95.89,179.59 L107.57,169.80 Z" fill="url(#t107)" stroke="url(#t107)" stroke-width="0.5"/><path d="M418.50,311.20 L107.57,169.80 L119.81,160.43 Z" fill="url(#t108)" stroke="url(#t108)" stroke-width="0.5"/><path d="M418.50,311.20 L119.81,160.43 L132.57,151.49 Z" fill="url(#t109)" stroke="url(#t109)" stroke-width="0.5"/><path d="M418.50,311.20 L132.57,151.49 L145.83,142.99 Z" fill="url(#t110)" stroke="url(#t110)" stroke-width="0.5"/><path d="M418.50,311.20 L145.83,142.99 L159.55,134.94 Z" fill="url(#t111)" stroke="url(#t111)" stroke-width="0.5"/><path d="M418.50,311.20 L159.55,134.94 L161.87,133.65 L164.22,132.36 L166.57,131.09 L168.93,129.83 L171.31,128.59 L173.69,127.35 L176.09,126.14 L178.50,124.93 L180.92,123.73 L183.35,122.55 L185.79,121.39 L188.24,120.23 L190.71,119.09 L193.18,117.96 L195.66,116.84 L198.15,115.74 L200.66,114.65 L203.17,113.58 L205.69,112.51 L208.22,111.46 L210.76,110.43 L213.31,109.40 L215.87,108.39 L218.43,107.40 L221.01,106.41 L223.60,105.44 L226.19,104.49 L228.79,103.54 L231.40,102.61 L234.02,101.70 L236.64,100.79 L239.28,99.91 L241.92,99.03 L244.57,98.17 L247.22,97.32 L249.89,96.48 L252.56,95.66 L255.24,94.85 L257.92,94.06 L260.61,93.28 L263.31,92.51 L266.02,91.75 L268.73,91.01 L271.45,90.29 L274.17,89.57 L276.90,88.87 L279.64,88.19 L282.38,87.52 Z" fill="#C0B2D3"/><path d="M418.50,311.20 L159.55,134.94 L173.69,127.35 Z" fill="url(#t112)" stroke="url(#t112)" stroke-width="0.5"/><path d="M418.50,311.20 L173.69,127.35 L188.24,120.23 Z" fill="url(#t113)" stroke="url(#t113)" stroke-width="0.5"/><path d="M418.50,311.20 L188.24,120.23 L203.17,113.58 Z" fill="url(#t114)" stroke="url(#t114)" stroke-width="0.5"/><path d="M418.50,311.20 L203.17,113.58 L218.43,107.40 Z" fill="url(#t115)" stroke="url(#t115)" stroke-width="0.5"/><path d="M418.50,311.20 L218.43,107.40 L234.02,101.70 Z" fill="url(#t116)" stroke="url(#t116)" stroke-width="0.5"/><path d="M418.50,311.20 L234.02,101.70 L249.89,96.48 Z" fill="url(#t117)" stroke="url(#t117)" stroke-width="0.5"/><path d="M418.50,311.20 L249.89,96.48 L266.02,91.75 Z" fill="url(#t118)" stroke="url(#t118)" stroke-width="0.5"/><path d="M418.50,311.20 L266.02,91.75 L282.38,87.52 Z" fill="url(#t119)" stroke="url(#t119)" stroke-width="0.5"/><path d="M418.50,311.20 L282.38,87.52 L285.13,86.86 L287.88,86.21 L290.64,85.58 L293.40,84.96 L296.17,84.36 L298.95,83.77 L301.73,83.19 L304.51,82.63 L307.30,82.08 L310.10,81.55 L312.89,81.03 L315.70,80.52 L318.50,80.03 L321.31,79.55 L324.13,79.08 L326.95,78.63 L329.77,78.19 L332.60,77.77 L335.43,77.36 L338.26,76.96 L341.10,76.58 L343.94,76.21 L346.78,75.85 L349.63,75.51 Z" fill="#5A7EAE"/><path d="M418.50,311.20 L282.38,87.52 L298.95,83.77 Z" fill="url(#t120)" stroke="url(#t120)" stroke-width="0.5"/><path d="M418.50,311.20 L298.95,83.77 L315.70,80.52 Z" fill="url(#t121)" stroke="url(#t121)" stroke-width="0.5"/><path d="M418.50,311.20 L315.70,80.52 L332.60,77.77 Z" fill="url(#t122)" stroke="url(#t122)" stroke-width="0.5"/><path d="M418.50,311.20 L332.60,77.77 L349.63,75.51 Z" fill="url(#t123)" stroke="url(#t123)" stroke-width="0.5"/><path d="M418.50,311.20 L349.63,75.51 L352.47,75.19 L355.33,74.87 L358.18,74.57 L361.04,74.29 L363.90,74.02 L366.76,73.76 L369.62,73.51 L372.48,73.28 L375.35,73.07 L378.22,72.87 L381.09,72.68 L383.96,72.50 L386.84,72.34 L389.71,72.20 L392.59,72.06 L395.46,71.95 L398.34,71.84 L401.22,71.75 L404.10,71.67 L406.98,71.61 L409.86,71.56 L412.74,71.53 L415.62,71.51 L418.50,71.50 Z" fill="#B54C49"/><path d="M418.50,311.20 L349.63,75.51 L366.76,73.76 Z" fill="url(#t124)" stroke="url(#t124)" stroke-width="0.5"/><path d="M418.50,311.20 L366.76,73.76 L383.96,72.50 Z" fill="url(#t125)" stroke="url(#t125)" stroke-width="0.5"/><path d="M418.50,311.20 L383.96,72.50 L401.22,71.75 Z" fill="url(#t126)" stroke="url(#t126)" stroke-width="0.5"/><path d="M418.50,311.20 L401.22,71.75 L418.50,71.50 Z" fill="url(#t127)" stroke="url(#t127)" stroke-width="0.5"/></g>
<g fill="none" stroke="#000" stroke-width="1" stroke-linejoin="round"><path d="M21.09,423.22 L20.21,420.78 L19.36,418.33 L18.54,415.88 L17.75,413.43 L17.00,410.98 L16.28,408.53 L15.59,406.08 L14.93,403.62 L14.31,401.17 L13.72,398.71 L13.16,396.25 L12.63,393.80 L24.61,451.28 L25.14,453.73 L25.70,456.19 L26.29,458.64 L26.91,461.09 L27.56,463.55 L28.24,466.00 L28.95,468.45 L29.70,470.90 L30.48,473.35 L31.29,475.79 L32.13,478.23 L33.00,480.68 Z"/><path d="M97.67,529.52 L95.32,527.47 L93.00,525.41 L90.72,523.33 L88.46,521.25 L86.24,519.15 L84.04,517.04 L81.88,514.92 L79.75,512.79 L77.64,510.64 L75.57,508.49 L73.53,506.32 L71.52,504.15 L69.54,501.96 L67.59,499.77 L65.68,497.56 L63.79,495.35 L61.94,493.12 L60.11,490.89 L58.32,488.65 L56.56,486.40 L54.84,484.14 L53.14,481.87 L51.48,479.59 L49.84,477.31 L48.24,475.02 L46.67,472.72 L45.14,470.42 L43.63,468.11 L42.16,465.79 L40.72,463.47 L39.31,461.14 L37.93,458.80 L36.58,456.46 L35.27,454.12 L33.99,451.76 L32.74,449.41 L31.52,447.05 L30.33,444.68 L29.18,442.31 L28.06,439.94 L26.97,437.56 L25.91,435.18 L24.88,432.79 L23.88,430.40 L22.92,428.01 L21.99,425.62 L21.09,423.22 L33.00,480.68 L33.88,483.07 L34.80,485.46 L35.75,487.85 L36.73,490.23 L37.74,492.61 L38.78,494.99 L39.85,497.37 L40.95,499.74 L42.09,502.10 L43.25,504.46 L44.45,506.82 L45.67,509.17 L46.93,511.52 L48.21,513.86 L49.53,516.20 L50.88,518.53 L52.26,520.85 L53.67,523.17 L55.11,525.48 L56.59,527.78 L58.09,530.08 L59.62,532.37 L61.19,534.66 L62.78,536.93 L64.41,539.20 L66.06,541.46 L67.75,543.71 L69.47,545.96 L71.21,548.19 L72.99,550.42 L74.80,552.63 L76.64,554.84 L78.51,557.04 L80.41,559.23 L82.34,561.40 L84.29,563.57 L86.28,565.73 L88.30,567.87 L90.35,570.01 L92.43,572.13 L94.53,574.25 L96.67,576.35 L98.83,578.44 L101.03,580.51 L103.25,582.58 L105.51,584.63 L107.79,586.67 Z"/><path d="M161.01,573.42 L158.07,571.77 L155.16,570.10 L152.27,568.42 L149.41,566.72 L146.57,565.01 L143.75,563.28 L140.97,561.53 L138.20,559.76 L135.47,557.98 L132.76,556.19 L130.07,554.38 L127.42,552.55 L124.79,550.71 L122.18,548.85 L119.61,546.98 L117.06,545.09 L114.54,543.19 L112.04,541.28 L109.58,539.35 L107.14,537.41 L104.73,535.46 L102.34,533.49 L99.99,531.51 L97.67,529.52 L107.79,586.67 L110.05,588.65 L112.34,590.62 L114.65,592.58 L117.00,594.53 L119.37,596.46 L121.76,598.38 L124.19,600.28 L126.64,602.17 L129.11,604.05 L131.62,605.91 L134.15,607.76 L136.70,609.59 L139.28,611.41 L141.89,613.21 L144.52,614.99 L147.17,616.76 L149.85,618.52 L152.56,620.26 L155.29,621.98 L158.05,623.69 L160.82,625.38 L163.63,627.05 L166.45,628.70 L169.30,630.34 Z"/><path d="M238.27,607.28 L234.66,606.05 L231.08,604.80 L227.52,603.52 L223.98,602.22 L220.46,600.90 L216.96,599.56 L213.48,598.19 L210.03,596.80 L206.59,595.39 L203.18,593.96 L199.79,592.50 L196.43,591.03 L193.08,589.53 L189.76,588.01 L186.47,586.47 L183.20,584.91 L179.95,583.33 L176.73,581.72 L173.54,580.10 L170.37,578.46 L167.22,576.80 L164.10,575.12 L161.01,573.42 L169.30,630.34 L172.30,632.03 L175.33,633.70 L178.38,635.36 L181.45,636.99 L184.55,638.60 L187.67,640.19 L190.82,641.76 L193.99,643.31 L197.18,644.85 L200.40,646.36 L203.64,647.84 L206.90,649.31 L210.18,650.76 L213.48,652.18 L216.81,653.58 L220.16,654.96 L223.53,656.32 L226.92,657.65 L230.33,658.97 L233.76,660.26 L237.21,661.52 L240.67,662.77 L244.16,663.99 Z"/><path d="M325.69,628.68 L321.74,628.03 L317.80,627.36 L313.87,626.66 L309.96,625.93 L306.05,625.18 L302.16,624.40 L298.28,623.60 L294.41,622.77 L290.56,621.91 L286.72,621.03 L282.89,620.12 L279.08,619.19 L275.29,618.23 L271.51,617.24 L267.75,616.23 L264.00,615.20 L260.27,614.14 L256.56,613.06 L252.86,611.95 L249.19,610.82 L245.53,609.66 L241.89,608.48 L238.27,607.28 L244.16,663.99 L247.67,665.18 L251.19,666.35 L254.73,667.50 L258.29,668.63 L261.87,669.73 L265.46,670.80 L269.07,671.85 L272.70,672.88 L276.34,673.88 L280.00,674.86 L283.67,675.81 L287.35,676.74 L291.05,677.64 L294.77,678.52 L298.50,679.37 L302.24,680.19 L305.99,680.99 L309.76,681.76 L313.54,682.51 L317.32,683.23 L321.12,683.92 L324.94,684.59 L328.76,685.23 Z"/><path d="M511.50,628.68 L507.70,629.27 L503.89,629.84 L500.07,630.38 L496.24,630.90 L492.40,631.40 L488.55,631.87 L484.70,632.31 L480.84,632.73 L476.98,633.13 L473.11,633.50 L469.23,633.84 L465.35,634.16 L461.46,634.45 L457.57,634.72 L453.67,634.96 L449.77,635.18 L445.87,635.37 L441.97,635.54 L438.06,635.68 L434.15,635.80 L430.24,635.88 L426.33,635.95 L422.41,635.99 L418.50,636.00 L414.59,635.99 L410.69,635.95 L406.79,635.88 L402.88,635.80 L398.98,635.68 L395.08,635.54 L391.19,635.37 L387.29,635.18 L383.40,634.96 L379.51,634.72 L375.63,634.45 L371.75,634.16 L367.88,633.84 L364.01,633.50 L360.15,633.13 L356.29,632.73 L352.44,632.31 L348.59,631.87 L344.76,631.40 L340.93,630.90 L337.11,630.38 L333.29,629.84 L329.49,629.27 L325.69,628.68 L328.76,685.23 L332.43,685.82 L336.11,686.39 L339.80,686.93 L343.49,687.44 L347.19,687.93 L350.91,688.40 L354.62,688.84 L358.35,689.26 L362.08,689.65 L365.81,690.02 L369.55,690.36 L373.30,690.67 L377.05,690.97 L380.81,691.23 L384.56,691.47 L388.33,691.69 L392.09,691.88 L395.86,692.04 L399.63,692.18 L403.40,692.30 L407.17,692.39 L410.95,692.45 L414.72,692.49 L418.50,692.50 L422.28,692.49 L426.07,692.45 L429.85,692.39 L433.63,692.30 L437.41,692.18 L441.19,692.04 L444.97,691.88 L448.74,691.69 L452.51,691.47 L456.28,691.23 L460.04,690.97 L463.80,690.67 L467.55,690.36 L471.30,690.02 L475.05,689.65 L478.78,689.26 L482.52,688.84 L486.24,688.40 L489.96,687.93 L493.67,687.44 L497.38,686.93 L501.07,686.39 L504.76,685.82 L508.44,685.23 Z"/><path d="M740.04,529.52 L737.68,531.54 L735.28,533.55 L732.86,535.54 L730.41,537.52 L727.93,539.49 L725.42,541.44 L722.88,543.38 L720.31,545.31 L717.72,547.22 L715.10,549.11 L712.45,550.99 L709.77,552.86 L707.06,554.71 L704.33,556.54 L701.57,558.36 L698.78,560.16 L695.97,561.95 L693.13,563.72 L690.26,565.47 L687.37,567.20 L684.45,568.92 L681.51,570.62 L678.54,572.30 L675.54,573.97 L672.52,575.62 L669.48,577.25 L666.41,578.86 L663.31,580.45 L660.20,582.02 L657.06,583.57 L653.89,585.11 L650.70,586.62 L647.49,588.12 L644.26,589.59 L641.00,591.05 L637.72,592.48 L634.42,593.90 L631.10,595.29 L627.76,596.66 L624.40,598.02 L621.01,599.35 L617.61,600.66 L614.18,601.95 L610.74,603.21 L607.27,604.46 L603.79,605.68 L600.29,606.88 L596.77,608.06 L593.23,609.21 L589.67,610.35 L586.10,611.46 L582.51,612.55 L578.90,613.61 L575.28,614.65 L571.64,615.67 L567.98,616.66 L564.31,617.63 L560.62,618.58 L556.92,619.50 L553.21,620.40 L549.48,621.28 L545.74,622.13 L541.98,622.96 L538.21,623.76 L534.43,624.54 L530.64,625.29 L526.83,626.02 L523.02,626.72 L519.19,627.40 L515.35,628.05 L511.50,628.68 L508.44,685.23 L512.16,684.61 L515.87,683.96 L519.57,683.29 L523.27,682.59 L526.95,681.87 L530.62,681.12 L534.27,680.35 L537.92,679.55 L541.55,678.73 L545.18,677.89 L548.78,677.02 L552.38,676.13 L555.96,675.21 L559.53,674.27 L563.08,673.31 L566.62,672.32 L570.14,671.31 L573.65,670.28 L577.14,669.22 L580.62,668.14 L584.08,667.04 L587.52,665.91 L590.95,664.76 L594.36,663.59 L597.75,662.40 L601.12,661.19 L604.47,659.95 L607.81,658.69 L611.13,657.41 L614.43,656.11 L617.70,654.79 L620.96,653.44 L624.20,652.08 L627.42,650.70 L630.62,649.29 L633.79,647.86 L636.95,646.42 L640.08,644.95 L643.20,643.47 L646.29,641.96 L649.35,640.44 L652.40,638.89 L655.42,637.33 L658.42,635.75 L661.40,634.15 L664.35,632.53 L667.28,630.89 L670.19,629.24 L673.07,627.56 L675.92,625.87 L678.75,624.16 L681.56,622.44 L684.34,620.70 L687.10,618.94 L689.83,617.16 L692.54,615.37 L695.22,613.56 L697.87,611.74 L700.50,609.90 L703.10,608.04 L705.67,606.17 L708.22,604.28 L710.74,602.38 L713.24,600.47 L715.70,598.54 L718.14,596.59 L720.55,594.64 L722.94,592.66 L725.29,590.68 L727.62,588.68 L729.92,586.67 Z"/><path d="M787.18,478.45 L785.56,480.69 L783.91,482.91 L782.23,485.13 L780.52,487.33 L778.78,489.53 L777.01,491.73 L775.21,493.91 L773.38,496.09 L771.52,498.25 L769.63,500.41 L767.70,502.56 L765.75,504.69 L763.77,506.82 L761.76,508.94 L759.72,511.05 L757.65,513.14 L755.55,515.23 L753.42,517.31 L751.27,519.37 L749.08,521.42 L746.86,523.46 L744.62,525.49 L742.34,527.51 L740.04,529.52 L729.92,586.67 L732.16,584.67 L734.37,582.66 L736.56,580.64 L738.71,578.61 L740.84,576.57 L742.94,574.51 L745.01,572.44 L747.06,570.36 L749.07,568.28 L751.06,566.18 L753.02,564.07 L754.95,561.95 L756.85,559.82 L758.72,557.68 L760.57,555.53 L762.38,553.37 L764.17,551.20 L765.93,549.03 L767.65,546.84 L769.35,544.65 L771.02,542.45 L772.66,540.24 L774.27,538.02 L775.85,535.79 Z"/><path d="M816.83,423.22 L815.91,425.67 L814.95,428.12 L813.97,430.56 L812.94,433.00 L811.89,435.43 L810.80,437.87 L809.67,440.30 L808.52,442.72 L807.33,445.14 L806.11,447.56 L804.85,449.97 L803.56,452.38 L802.24,454.78 L800.88,457.18 L799.49,459.57 L798.07,461.95 L796.61,464.33 L795.13,466.70 L793.60,469.06 L792.05,471.42 L790.46,473.77 L788.83,476.12 L787.18,478.45 L775.85,535.79 L777.47,533.47 L779.06,531.13 L780.61,528.78 L782.13,526.43 L783.62,524.07 L785.08,521.71 L786.50,519.33 L787.90,516.96 L789.26,514.57 L790.59,512.18 L791.88,509.78 L793.15,507.38 L794.38,504.98 L795.58,502.56 L796.75,500.15 L797.88,497.73 L798.98,495.30 L800.06,492.87 L801.09,490.44 L802.10,488.00 L803.07,485.56 L804.02,483.12 L804.93,480.68 Z"/><path d="M825.33,393.80 L824.80,396.25 L824.24,398.71 L823.64,401.17 L823.02,403.62 L822.36,406.08 L821.67,408.53 L820.94,410.98 L820.19,413.43 L819.40,415.88 L818.58,418.33 L817.72,420.78 L816.83,423.22 L804.93,480.68 L805.80,478.23 L806.65,475.79 L807.46,473.35 L808.24,470.90 L808.99,468.45 L809.70,466.00 L810.39,463.55 L811.04,461.09 L811.66,458.64 L812.26,456.19 L812.82,453.73 L813.34,451.28 Z"/><path d="M418.50,311.20 L418.50,71.50 L421.39,71.51 L424.28,71.53 L427.17,71.56 L430.06,71.61 L432.94,71.67 L435.83,71.75 L438.72,71.84 L441.60,71.95 L444.49,72.06 L447.37,72.20 L450.25,72.34 L453.14,72.50 L456.02,72.68 L458.89,72.87 L461.77,73.07 L464.65,73.28 L467.52,73.51 L470.39,73.76 L473.26,74.02 L476.13,74.29 L478.99,74.57 L481.85,74.87 L484.71,75.19 L487.57,75.51 Z"/><path d="M418.50,311.20 L487.57,75.51 L490.42,75.85 L493.27,76.21 L496.12,76.58 L498.97,76.96 L501.81,77.36 L504.65,77.77 L507.48,78.19 L510.31,78.63 L513.14,79.08 L515.96,79.55 L518.78,80.03 L521.59,80.52 L524.40,81.03 L527.21,81.55 L530.01,82.08 L532.81,82.63 L535.60,83.19 L538.39,83.77 L541.17,84.36 L543.95,84.96 L546.72,85.58 L549.49,86.21 L552.25,86.86 L555.00,87.52 L557.75,88.19 L560.50,88.87 L563.23,89.57 L565.97,90.29 L568.69,91.01 L571.41,91.75 L574.12,92.51 L576.83,93.28 L579.53,94.06 L582.22,94.85 L584.91,95.66 L587.58,96.48 L590.25,97.32 L592.92,98.17 L595.57,99.03 L598.22,99.91 L600.86,100.79 L603.50,101.70 L606.12,102.61 L608.74,103.54 L611.35,104.49 L613.95,105.44 L616.54,106.41 L619.12,107.40 L621.69,108.39 L624.26,109.40 L626.82,110.43 L629.36,111.46 L631.90,112.51 L634.43,113.58 L636.95,114.65 L639.46,115.74 L641.95,116.84 L644.44,117.96 L646.92,119.09 L649.39,120.23 L651.85,121.39 L654.30,122.55 L656.73,123.73 L659.16,124.93 L661.57,126.14 L663.98,127.35 L666.37,128.59 L668.75,129.83 L671.12,131.09 L673.48,132.36 L675.83,133.65 L678.16,134.94 L680.48,136.25 L682.79,137.58 L685.09,138.91 L687.38,140.26 L689.65,141.62 L691.91,142.99 L694.16,144.37 L696.39,145.77 L698.62,147.18 L700.82,148.60 L703.02,150.04 L705.20,151.49 L707.37,152.95 L709.52,154.42 L711.66,155.90 L713.78,157.40 L715.89,158.90 L717.99,160.43 L720.07,161.96 L722.14,163.50 L724.19,165.06 L726.23,166.63 L728.25,168.21 L730.26,169.80 L732.25,171.40 L734.22,173.02 L736.18,174.64 L738.13,176.28 L740.05,177.93 L741.97,179.59 L743.86,181.27 L745.74,182.95 L747.60,184.64 L749.45,186.35 L751.28,188.07 L753.09,189.80 L754.88,191.54 L756.66,193.29 L758.42,195.05 L760.16,196.83 L761.88,198.61 L763.59,200.41 L765.27,202.21 L766.94,204.03 L768.59,205.86 L770.22,207.69 L771.84,209.54 L773.43,211.40 Z"/><path d="M418.50,311.20 L773.43,211.40 L775.01,213.27 L776.56,215.15 L778.10,217.04 L779.62,218.94 L781.11,220.85 L782.59,222.77 L784.05,224.69 L785.49,226.63 L786.90,228.58 L788.30,230.54 L789.68,232.51 L791.03,234.49 L792.37,236.47 L793.68,238.47 L794.97,240.47 L796.24,242.49 L797.49,244.51 L798.72,246.55 L799.93,248.59 L801.11,250.64 L802.28,252.70 L803.42,254.76 L804.53,256.84 L805.63,258.92 L806.70,261.02 L807.75,263.12 L808.78,265.23 L809.79,267.34 L810.77,269.47 L811.72,271.60 L812.66,273.74 L813.57,275.89 L814.46,278.05 L815.32,280.21 L816.16,282.38 L816.97,284.56 L817.76,286.74 L818.53,288.93 L819.27,291.13 L819.99,293.34 L820.68,295.55 L821.34,297.76 L821.98,299.99 L822.60,302.22 L823.19,304.46 L823.76,306.70 L824.30,308.95 L824.81,311.20 L825.30,313.46 L825.76,315.72 L826.19,317.99 L826.60,320.27 L826.98,322.55 L827.34,324.84 L827.67,327.13 L827.97,329.42 L828.25,331.72 L828.49,334.02 L828.72,336.33 L828.91,338.64 L829.08,340.96 L829.21,343.28 L829.33,345.60 L829.41,347.93 L829.46,350.26 L829.49,352.59 L829.49,354.92 L829.46,357.26 L829.40,359.60 L829.32,361.95 L829.20,364.30 L829.06,366.64 Z"/><path d="M418.50,311.20 L829.06,366.64 L828.89,368.99 L828.69,371.35 L828.46,373.70 L828.20,376.06 L827.92,378.41 L827.60,380.77 L827.25,383.13 L826.88,385.49 L826.47,387.85 L826.04,390.21 L825.58,392.57 L825.08,394.94 L824.56,397.30 L824.01,399.66 L823.43,402.02 L822.82,404.38 L822.17,406.74 L821.50,409.10 L820.80,411.46 L820.07,413.81 L819.30,416.17 L818.51,418.52 L817.69,420.87 L816.83,423.22 Z"/><path d="M418.50,311.20 L816.83,423.22 L815.95,425.57 L815.04,427.91 L814.09,430.25 L813.12,432.59 L812.11,434.93 L811.07,437.26 L810.01,439.59 L808.91,441.91 L807.78,444.24 L806.62,446.55 L805.43,448.87 L804.21,451.18 L802.96,453.48 L801.68,455.78 L800.37,458.07 L799.02,460.36 L797.65,462.64 L796.25,464.92 L794.81,467.19 L793.34,469.46 L791.85,471.72 L790.32,473.97 L788.76,476.22 L787.18,478.45 Z"/><path d="M418.50,311.20 L787.18,478.45 L785.56,480.69 L783.91,482.91 L782.23,485.13 L780.52,487.33 L778.78,489.53 L777.01,491.73 L775.21,493.91 L773.38,496.09 L771.52,498.25 L769.63,500.41 L767.70,502.56 L765.75,504.69 L763.77,506.82 L761.76,508.94 L759.72,511.05 L757.65,513.14 L755.55,515.23 L753.42,517.31 L751.27,519.37 L749.08,521.42 L746.86,523.46 L744.62,525.49 L742.34,527.51 L740.04,529.52 Z"/><path d="M418.50,311.20 L740.04,529.52 L737.71,531.51 L735.35,533.49 L732.96,535.46 L730.55,537.41 L728.10,539.35 L725.63,541.28 L723.13,543.19 L720.60,545.09 L718.05,546.98 L715.46,548.85 L712.85,550.71 L710.22,552.55 L707.55,554.38 L704.86,556.19 L702.15,557.98 L699.40,559.76 L696.64,561.53 L693.84,563.28 L691.02,565.01 L688.18,566.72 L685.30,568.42 L682.41,570.10 L679.49,571.77 L676.54,573.42 L673.57,575.05 L670.58,576.66 L667.56,578.25 L664.52,579.83 L661.46,581.39 L658.37,582.93 L655.26,584.45 L652.12,585.95 L648.97,587.43 L645.79,588.90 L642.59,590.34 L639.37,591.77 L636.12,593.17 L632.86,594.56 L629.57,595.92 L626.27,597.27 L622.94,598.59 L619.60,599.90 L616.23,601.18 L612.84,602.44 L609.44,603.68 L606.02,604.90 L602.58,606.10 L599.12,607.28 L595.64,608.43 L592.14,609.56 L588.63,610.67 L585.10,611.76 L581.56,612.83 L578.00,613.87 L574.42,614.89 L570.83,615.89 L567.22,616.87 L563.59,617.82 L559.96,618.75 L556.30,619.66 L552.64,620.54 L548.96,621.40 L545.27,622.23 L541.56,623.05 L537.84,623.83 L534.11,624.60 L530.37,625.34 L526.62,626.06 L522.86,626.75 L519.08,627.41 L515.30,628.06 L511.50,628.68 Z"/><path d="M418.50,311.20 L511.50,628.68 L507.70,629.27 L503.89,629.84 L500.07,630.38 L496.24,630.90 L492.40,631.40 L488.55,631.87 L484.70,632.31 L480.84,632.73 L476.98,633.13 L473.11,633.50 L469.23,633.84 L465.35,634.16 L461.46,634.45 L457.57,634.72 L453.67,634.96 L449.77,635.18 L445.87,635.37 L441.97,635.54 L438.06,635.68 L434.15,635.80 L430.24,635.88 L426.33,635.95 L422.41,635.99 L418.50,636.00 L414.59,635.99 L410.69,635.95 L406.79,635.88 L402.88,635.80 L398.98,635.68 L395.08,635.54 L391.19,635.37 L387.29,635.18 L383.40,634.96 L379.51,634.72 L375.63,634.45 L371.75,634.16 L367.88,633.84 L364.01,633.50 L360.15,633.13 L356.29,632.73 L352.44,632.31 L348.59,631.87 L344.76,631.40 L340.93,630.90 L337.11,630.38 L333.29,629.84 L329.49,629.27 L325.69,628.68 Z"/><path d="M418.50,311.20 L325.69,628.68 L321.91,628.06 L318.13,627.41 L314.36,626.75 L310.61,626.06 L306.86,625.34 L303.13,624.60 L299.41,623.83 L295.70,623.05 L292.00,622.23 L288.32,621.40 L284.64,620.54 L280.99,619.66 L277.34,618.75 L273.71,617.82 L270.10,616.87 L266.50,615.89 L262.91,614.89 L259.34,613.87 L255.79,612.83 L252.25,611.76 L248.73,610.67 L245.22,609.56 L241.74,608.43 L238.27,607.28 Z"/><path d="M418.50,311.20 L238.27,607.28 L234.81,606.10 L231.38,604.90 L227.96,603.68 L224.57,602.44 L221.19,601.18 L217.83,599.90 L214.49,598.59 L211.18,597.27 L207.88,595.92 L204.60,594.56 L201.34,593.17 L198.11,591.77 L194.89,590.34 L191.70,588.90 L188.53,587.43 L185.38,585.95 L182.25,584.45 L179.15,582.93 L176.07,581.39 L173.01,579.83 L169.97,578.25 L166.96,576.66 L163.98,575.05 L161.01,573.42 Z"/><path d="M418.50,311.20 L161.01,573.42 L158.07,571.77 L155.16,570.10 L152.27,568.42 L149.41,566.72 L146.57,565.01 L143.75,563.28 L140.97,561.53 L138.20,559.76 L135.47,557.98 L132.76,556.19 L130.07,554.38 L127.42,552.55 L124.79,550.71 L122.18,548.85 L119.61,546.98 L117.06,545.09 L114.54,543.19 L112.04,541.28 L109.58,539.35 L107.14,537.41 L104.73,535.46 L102.34,533.49 L99.99,531.51 L97.67,529.52 Z"/><path d="M418.50,311.20 L97.67,529.52 L95.37,527.51 L93.10,525.49 L90.86,523.46 L88.65,521.42 L86.47,519.37 L84.32,517.31 L82.19,515.23 L80.10,513.14 L78.03,511.05 L76.00,508.94 L73.99,506.82 L72.02,504.69 L70.07,502.56 L68.16,500.41 L66.27,498.25 L64.42,496.09 L62.59,493.91 L60.79,491.73 L59.03,489.53 L57.29,487.33 L55.59,485.13 L53.91,482.91 L52.27,480.69 L50.65,478.45 L49.07,476.22 L47.52,473.97 L46.00,471.72 L44.50,469.46 L43.04,467.19 L41.61,464.92 L40.21,462.64 L38.84,460.36 L37.50,458.07 L36.20,455.78 L34.92,453.48 L33.67,451.18 L32.45,448.87 L31.27,446.55 L30.11,444.24 L28.99,441.91 L27.89,439.59 L26.83,437.26 L25.80,434.93 L24.80,432.59 L23.82,430.25 L22.88,427.91 L21.97,425.57 L21.09,423.22 Z"/><path d="M418.50,311.20 L21.09,423.22 L20.24,420.87 L19.42,418.52 L18.63,416.17 L17.87,413.81 L17.14,411.46 L16.44,409.10 L15.77,406.74 L15.13,404.38 L14.52,402.02 L13.94,399.66 L13.39,397.30 L12.87,394.94 L12.38,392.57 L11.92,390.21 L11.49,387.85 L11.09,385.49 L10.71,383.13 L10.37,380.77 L10.06,378.41 L9.77,376.06 L9.51,373.70 L9.29,371.35 L9.09,368.99 L8.92,366.64 Z"/><path d="M418.50,311.20 L8.92,366.64 L8.78,364.30 L8.67,361.95 L8.58,359.60 L8.53,357.26 L8.50,354.92 L8.50,352.59 L8.53,350.26 L8.58,347.93 L8.67,345.60 L8.78,343.28 L8.92,340.96 L9.09,338.64 L9.28,336.33 L9.50,334.02 L9.75,331.72 L10.03,329.42 L10.33,327.13 L10.66,324.84 L11.02,322.55 L11.40,320.27 L11.81,317.99 L12.24,315.72 L12.70,313.46 L13.19,311.20 L13.70,308.95 L14.24,306.70 L14.81,304.46 L15.40,302.22 L16.01,299.99 L16.66,297.76 L17.32,295.55 L18.01,293.34 L18.73,291.13 L19.47,288.93 L20.23,286.74 L21.02,284.56 L21.84,282.38 L22.68,280.21 L23.54,278.05 L24.42,275.89 L25.33,273.74 L26.27,271.60 L27.22,269.47 L28.20,267.34 L29.20,265.23 L30.23,263.12 L31.28,261.02 L32.35,258.92 Z"/><path d="M418.50,311.20 L32.35,258.92 L33.44,256.84 L34.56,254.76 L35.70,252.70 L36.86,250.64 L38.04,248.59 L39.25,246.55 L40.47,244.51 L41.72,242.49 L42.99,240.47 L44.28,238.47 L45.59,236.47 L46.93,234.49 L48.28,232.51 L49.65,230.54 L51.05,228.58 L52.46,226.63 L53.90,224.69 L55.35,222.77 L56.83,220.85 L58.32,218.94 L59.83,217.04 L61.37,215.15 L62.92,213.27 L64.49,211.40 L66.08,209.54 L67.69,207.69 L69.32,205.86 L70.97,204.03 L72.64,202.21 L74.32,200.41 L76.02,198.61 L77.74,196.83 L79.48,195.05 L81.23,193.29 L83.01,191.54 L84.80,189.80 L86.60,188.07 L88.43,186.35 L90.27,184.64 L92.13,182.95 L94.00,181.27 L95.89,179.59 L97.80,177.93 L99.72,176.28 L101.66,174.64 L103.62,173.02 L105.59,171.40 L107.57,169.80 L109.58,168.21 L111.59,166.63 L113.63,165.06 L115.67,163.50 L117.74,161.96 L119.81,160.43 L121.90,158.90 L124.01,157.40 L126.13,155.90 L128.26,154.42 L130.41,152.95 L132.57,151.49 L134.75,150.04 L136.94,148.60 L139.14,147.18 L141.36,145.77 L143.59,144.37 L145.83,142.99 L148.08,141.62 L150.35,140.26 L152.63,138.91 L154.92,137.58 L157.23,136.25 L159.55,134.94 Z"/><path d="M418.50,311.20 L159.55,134.94 L161.87,133.65 L164.22,132.36 L166.57,131.09 L168.93,129.83 L171.31,128.59 L173.69,127.35 L176.09,126.14 L178.50,124.93 L180.92,123.73 L183.35,122.55 L185.79,121.39 L188.24,120.23 L190.71,119.09 L193.18,117.96 L195.66,116.84 L198.15,115.74 L200.66,114.65 L203.17,113.58 L205.69,112.51 L208.22,111.46 L210.76,110.43 L213.31,109.40 L215.87,108.39 L218.43,107.40 L221.01,106.41 L223.60,105.44 L226.19,104.49 L228.79,103.54 L231.40,102.61 L234.02,101.70 L236.64,100.79 L239.28,99.91 L241.92,99.03 L244.57,98.17 L247.22,97.32 L249.89,96.48 L252.56,95.66 L255.24,94.85 L257.92,94.06 L260.61,93.28 L263.31,92.51 L266.02,91.75 L268.73,91.01 L271.45,90.29 L274.17,89.57 L276.90,88.87 L279.64,88.19 L282.38,87.52 Z"/><path d="M418.50,311.20 L282.38,87.52 L285.13,86.86 L287.88,86.21 L290.64,85.58 L293.40,84.96 L296.17,84.36 L298.95,83.77 L301.73,83.19 L304.51,82.63 L307.30,82.08 L310.10,81.55 L312.89,81.03 L315.70,80.52 L318.50,80.03 L321.31,79.55 L324.13,79.08 L326.95,78.63 L329.77,78.19 L332.60,77.77 L335.43,77.36 L338.26,76.96 L341.10,76.58 L343.94,76.21 L346.78,75.85 L349.63,75.51 Z"/><path d="M418.50,311.20 L349.63,75.51 L352.47,75.19 L355.33,74.87 L358.18,74.57 L361.04,74.29 L363.90,74.02 L366.76,73.76 L369.62,73.51 L372.48,73.28 L375.35,73.07 L378.22,72.87 L381.09,72.68 L383.96,72.50 L386.84,72.34 L389.71,72.20 L392.59,72.06 L395.46,71.95 L398.34,71.84 L401.22,71.75 L404.10,71.67 L406.98,71.61 L409.86,71.56 L412.74,71.53 L415.62,71.51 L418.50,71.50 Z"/></g>
<g class="lab" text-anchor="middle">
<text x="434.0" y="190.7">1</text>
<text x="538.0" y="217.6">5</text>
<text x="616.0" y="305.6">3</text>
<text x="613.0" y="356.0">1</text>
<text x="604.0" y="381.6">1</text>
<text x="580.0" y="405.6">1</text>
<text x="519.0" y="446.6">3</text>
<text x="419.4" y="463.0">2</text>
<text x="357.0" y="455.6">1</text>
<text x="318.0" y="446.6">1</text>
<text x="285.0" y="427.6">1</text>
<text x="245.3" y="393.2">2</text>
<text x="224.0" y="355.6">1</text>
<text x="220.0" y="316.6">2</text>
<text x="246.2" y="254.6">3</text>
<text x="315.0" y="209.6">2</text>
<text x="365.0" y="195.5">1</text>
<text x="403.4" y="190.7">1</text>
</g>
</svg>
<div class="leg">
<div class="li" style="top:6px"><i style="background:#5A80B0"></i><span>Arquivologia</span></div>
<div class="li" style="top:25px"><i style="background:#BC4E4A"></i><span>Artes Cênicas</span></div>
<div class="li" style="top:44px"><i style="background:#98B35D"></i><span>Biblioteconomia</span></div>
<div class="li" style="top:63px"><i style="background:#7C639E"></i><span>Biomedicina</span></div>
<div class="li" style="top:82px"><i style="background:#49A6C2"></i><span>Ciência Política</span></div>
<div class="li" style="top:101px"><i style="background:#F09951"></i><span>Ciências Biológicas</span></div>
<div class="li" style="top:120px"><i style="background:#3E5979"></i><span>Enfermagem</span></div>
<div class="li" style="top:139px"><i style="background:#863737"></i><span>Filosofia</span></div>
<div class="li" style="top:158px"><i style="background:#6D8041"></i><span>História</span></div>
<div class="li" style="top:177px"><i style="background:#59466F"></i><span>Letras</span></div>
<div class="li" style="top:196px"><i style="background:#337687"></i><span>Matemática</span></div>
<div class="li" style="top:215px"><i style="background:#A76C39"></i><span>Museologia</span></div>
<div class="li" style="top:234px"><i style="background:#A7B9D1"></i><span>Música</span></div>
<div class="li" style="top:253px"><i style="background:#D9A1A1"></i><span>Nutrição</span></div>
<div class="li" style="top:272px"><i style="background:#C6D4A8"></i><span>Pedagogia</span></div>
<div class="li" style="top:291px"><i style="background:#BCAECF"></i><span>Serviço Social</span></div>
<div class="li" style="top:310px"><i style="background:#5B7FB0"></i><span>Sstemas de Informação</span></div>
<div class="li" style="top:329px"><i style="background:#BA4E4B"></i><span>Turismo</span></div>
</div>
<script>
(function(){
function fit(el,w,o){var r=el.getBoundingClientRect().width;if(r>0&&Math.abs(r-w)>w*0.03){el.style.transformOrigin=o;el.style.transform='scaleX('+(w/r).toFixed(4)+')';}}
fit(document.getElementById('tt'),354.6,'50% 50%');
var W=[60.3,64.4,77.9,58.9,72.8,90.3,60.1,40.5,37.5,29.1,56.9,55.4,33.9,41.4,48.9,65.7,111,38.1];
var L=document.querySelectorAll('.li span');
for(var i=0;i<L.length;i++){fit(L[i],W[i],'0 50%');}
})();
</script>
</body></html>
